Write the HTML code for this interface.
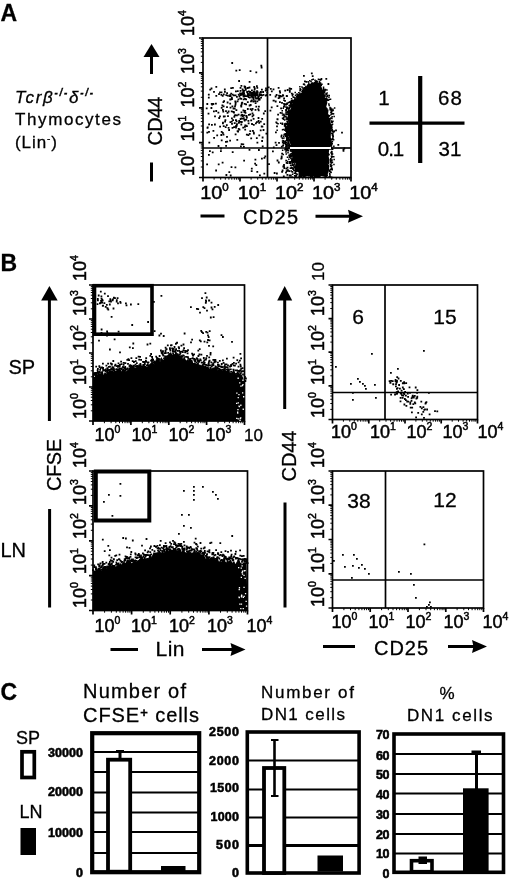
<!DOCTYPE html>
<html lang="en"><head><meta charset="utf-8"><title>Figure</title>
<style>html,body{margin:0;padding:0;background:#fff}svg{display:block}</style></head>
<body>
<svg width="520" height="881" viewBox="0 0 520 881" font-family='"Liberation Sans", Arial, Helvetica, sans-serif' fill="#000">
<style>text{stroke:#000;stroke-width:.3px}text.t{stroke-width:.5px}</style>
<defs><filter id="soft" x="0" y="0" width="520" height="881" filterUnits="userSpaceOnUse"><feGaussianBlur stdDeviation="0.38"/></filter></defs>
<rect width="520" height="881" fill="#fff"/>
<g filter="url(#soft)">
<text x="0.5" y="20.5" font-size="23" font-weight="bold">A</text>
<text x="15" y="102.5" font-size="17" font-style="italic" textLength="78" lengthAdjust="spacing">Tcrβ<tspan dy="-7" font-size="10" font-weight="bold">-/-</tspan><tspan dy="7">δ</tspan><tspan dy="-7" font-size="10" font-weight="bold">-/-</tspan></text>
<text x="15" y="125" font-size="17" textLength="106" lengthAdjust="spacing">Thymocytes</text>
<text x="15" y="147.5" font-size="17" textLength="42" lengthAdjust="spacing">(Lin<tspan dy="-6" font-size="10">-</tspan><tspan dy="6">)</tspan></text>
<line x1="151.5" y1="74" x2="151.5" y2="55" stroke="#000" stroke-width="3"/>
<polygon points="151.5,44 143.5,57 159.5,57" fill="#000"/>
<text x="161.5" y="145.5" font-size="20" textLength="49" lengthAdjust="spacing" transform="rotate(-90 161.5 145.5)">CD44</text>
<line x1="151.5" y1="162.5" x2="151.5" y2="181.5" stroke="#000" stroke-width="3"/>
<rect x="203" y="38" width="148" height="139.5" fill="none" stroke="#000" stroke-width="1.7"/>
<line x1="267.5" y1="38" x2="267.5" y2="177.5" stroke="#000" stroke-width="1.7"/>
<path d="M214.1 177.5v2.2M203 167.0h-2.2M220.7 177.5v2.2M203 160.9h-2.2M225.3 177.5v2.2M203 156.5h-2.2M228.9 177.5v2.2M203 153.1h-2.2M231.8 177.5v2.2M203 150.4h-2.2M234.3 177.5v2.2M203 148.0h-2.2M236.4 177.5v2.2M203 146.0h-2.2M238.3 177.5v2.2M203 144.2h-2.2M251.1 177.5v2.2M203 132.1h-2.2M257.7 177.5v2.2M203 126.0h-2.2M262.3 177.5v2.2M203 121.6h-2.2M265.9 177.5v2.2M203 118.2h-2.2M268.8 177.5v2.2M203 115.5h-2.2M271.3 177.5v2.2M203 113.2h-2.2M273.4 177.5v2.2M203 111.1h-2.2M275.3 177.5v2.2M203 109.3h-2.2M288.1 177.5v2.2M203 97.3h-2.2M294.7 177.5v2.2M203 91.1h-2.2M299.3 177.5v2.2M203 86.8h-2.2M302.9 177.5v2.2M203 83.4h-2.2M305.8 177.5v2.2M203 80.6h-2.2M308.3 177.5v2.2M203 78.3h-2.2M310.4 177.5v2.2M203 76.3h-2.2M312.3 177.5v2.2M203 74.5h-2.2M325.1 177.5v2.2M203 62.4h-2.2M331.7 177.5v2.2M203 56.2h-2.2M336.3 177.5v2.2M203 51.9h-2.2M339.9 177.5v2.2M203 48.5h-2.2M342.8 177.5v2.2M203 45.7h-2.2M345.3 177.5v2.2M203 43.4h-2.2M347.4 177.5v2.2M203 41.4h-2.2M349.3 177.5v2.2M203 39.6h-2.2" stroke="#000" stroke-width="1" fill="none"/>
<path d="M203.0 177.5v4M203 177.5h-4M240.0 177.5v4M203 142.6h-4M277.0 177.5v4M203 107.8h-4M314.0 177.5v4M203 72.9h-4M351.0 177.5v4M203 38.0h-4" stroke="#000" stroke-width="1.7" fill="none"/>
<text x="193.5" y="176" font-size="18" transform="rotate(-90 193.5 176)" class="t">10<tspan dy="-7.6" font-size="10.5">0</tspan></text>
<text x="193.5" y="141.5" font-size="18" transform="rotate(-90 193.5 141.5)" class="t">10<tspan dy="-7.6" font-size="10.5">1</tspan></text>
<text x="193.5" y="107.5" font-size="18" transform="rotate(-90 193.5 107.5)" class="t">10<tspan dy="-7.6" font-size="10.5">2</tspan></text>
<text x="193.5" y="74" font-size="18" transform="rotate(-90 193.5 74)" class="t">10<tspan dy="-7.6" font-size="10.5">3</tspan></text>
<text x="193.5" y="36" font-size="18" transform="rotate(-90 193.5 36)" class="t">10<tspan dy="-7.6" font-size="10.5">4</tspan></text>
<text x="200.3" y="199" font-size="18" textLength="28.5" lengthAdjust="spacingAndGlyphs" class="t">10<tspan dy="-7.6" font-size="10.5">0</tspan></text>
<text x="237.8" y="199" font-size="18" textLength="28.5" lengthAdjust="spacingAndGlyphs" class="t">10<tspan dy="-7.6" font-size="10.5">1</tspan></text>
<text x="275" y="199" font-size="18" textLength="28.5" lengthAdjust="spacingAndGlyphs" class="t">10<tspan dy="-7.6" font-size="10.5">2</tspan></text>
<text x="312" y="199" font-size="18" textLength="28.5" lengthAdjust="spacingAndGlyphs" class="t">10<tspan dy="-7.6" font-size="10.5">3</tspan></text>
<text x="349.3" y="199" font-size="18" textLength="28.5" lengthAdjust="spacingAndGlyphs" class="t">10<tspan dy="-7.6" font-size="10.5">4</tspan></text>
<path d="M232.2 119.2h1.8v1.8h-1.8zM232.6 107.6h1.8v1.8h-1.8zM222.0 109.0h1.8v1.8h-1.8zM252.7 117.9h1.8v1.8h-1.8zM251.6 115.5h1.8v1.8h-1.8zM241.9 114.6h1.8v1.8h-1.8zM211.0 124.0h1.8v1.8h-1.8zM243.6 119.0h1.8v1.8h-1.8zM210.6 87.6h1.8v1.8h-1.8zM222.7 105.4h1.8v1.8h-1.8zM240.6 111.4h1.8v1.8h-1.8zM243.8 103.0h1.8v1.8h-1.8zM240.6 117.5h1.8v1.8h-1.8zM226.1 136.0h1.8v1.8h-1.8zM244.3 128.8h1.8v1.8h-1.8zM226.7 101.6h1.8v1.8h-1.8zM230.8 110.5h1.8v1.8h-1.8zM245.5 115.5h1.8v1.8h-1.8zM229.3 98.6h1.8v1.8h-1.8zM228.2 129.1h1.8v1.8h-1.8zM223.9 115.4h1.8v1.8h-1.8zM242.4 91.1h1.8v1.8h-1.8zM236.7 130.3h1.8v1.8h-1.8zM205.8 107.5h1.8v1.8h-1.8zM234.4 100.6h1.8v1.8h-1.8zM243.5 111.1h1.8v1.8h-1.8zM214.0 123.6h1.8v1.8h-1.8zM246.0 125.2h1.8v1.8h-1.8zM257.6 117.1h1.8v1.8h-1.8zM237.8 93.8h1.8v1.8h-1.8zM245.2 103.4h1.8v1.8h-1.8zM229.2 94.3h1.8v1.8h-1.8zM221.5 104.6h1.8v1.8h-1.8zM214.1 115.4h1.8v1.8h-1.8zM257.7 120.1h1.8v1.8h-1.8zM241.4 101.7h1.8v1.8h-1.8zM219.2 125.7h1.8v1.8h-1.8zM252.5 114.2h1.8v1.8h-1.8zM239.7 118.1h1.8v1.8h-1.8zM259.9 120.7h1.8v1.8h-1.8zM243.8 119.7h1.8v1.8h-1.8zM212.5 129.9h1.8v1.8h-1.8zM250.3 119.4h1.8v1.8h-1.8zM206.4 103.1h1.8v1.8h-1.8zM248.6 86.6h1.8v1.8h-1.8zM233.2 126.3h1.8v1.8h-1.8zM216.3 134.5h1.8v1.8h-1.8zM244.3 109.9h1.8v1.8h-1.8zM240.9 121.1h1.8v1.8h-1.8zM237.8 128.0h1.8v1.8h-1.8zM226.1 106.2h1.8v1.8h-1.8zM251.6 112.4h1.8v1.8h-1.8zM222.8 125.3h1.8v1.8h-1.8zM258.0 105.8h1.8v1.8h-1.8zM215.3 110.1h1.8v1.8h-1.8zM233.8 107.8h1.8v1.8h-1.8zM257.1 97.6h1.8v1.8h-1.8zM254.9 94.2h1.8v1.8h-1.8zM224.2 120.8h1.8v1.8h-1.8zM252.9 124.0h1.8v1.8h-1.8zM241.2 114.0h1.8v1.8h-1.8zM238.3 120.1h1.8v1.8h-1.8zM233.4 115.9h1.8v1.8h-1.8zM244.6 112.0h1.8v1.8h-1.8zM247.5 119.9h1.8v1.8h-1.8zM229.6 106.8h1.8v1.8h-1.8zM235.8 124.9h1.8v1.8h-1.8zM231.0 117.4h1.8v1.8h-1.8zM219.1 115.4h1.8v1.8h-1.8zM242.0 115.3h1.8v1.8h-1.8zM229.5 121.2h1.8v1.8h-1.8zM240.2 104.7h1.8v1.8h-1.8zM227.7 110.6h1.8v1.8h-1.8zM232.6 111.1h1.8v1.8h-1.8zM251.1 95.6h1.8v1.8h-1.8zM235.0 125.3h1.8v1.8h-1.8zM248.8 132.9h1.8v1.8h-1.8zM210.5 107.1h1.8v1.8h-1.8zM230.9 120.7h1.8v1.8h-1.8zM252.3 91.7h1.8v1.8h-1.8zM246.2 91.1h1.8v1.8h-1.8zM238.6 128.7h1.8v1.8h-1.8zM233.8 114.7h1.8v1.8h-1.8zM248.0 114.0h1.8v1.8h-1.8zM234.7 133.5h1.8v1.8h-1.8zM251.7 107.9h1.8v1.8h-1.8zM249.7 108.3h1.8v1.8h-1.8zM238.0 121.9h1.8v1.8h-1.8zM239.3 120.9h1.8v1.8h-1.8zM213.1 90.9h1.8v1.8h-1.8zM245.2 98.5h1.8v1.8h-1.8zM220.6 91.4h1.8v1.8h-1.8zM255.0 122.5h1.8v1.8h-1.8zM258.1 98.9h1.8v1.8h-1.8zM236.0 96.0h1.8v1.8h-1.8zM247.5 134.3h1.8v1.8h-1.8zM222.6 133.8h1.8v1.8h-1.8zM250.8 109.5h1.8v1.8h-1.8zM206.4 131.7h1.8v1.8h-1.8zM234.6 103.6h1.8v1.8h-1.8zM242.0 117.7h1.8v1.8h-1.8zM258.5 97.7h1.8v1.8h-1.8zM253.0 132.8h1.8v1.8h-1.8zM257.8 109.5h1.8v1.8h-1.8zM224.8 126.3h1.8v1.8h-1.8zM237.7 113.7h1.8v1.8h-1.8zM257.4 108.3h1.8v1.8h-1.8zM208.2 123.5h1.8v1.8h-1.8zM240.8 103.4h1.8v1.8h-1.8zM235.9 123.7h1.8v1.8h-1.8zM237.2 130.6h1.8v1.8h-1.8zM235.1 126.6h1.8v1.8h-1.8zM258.4 134.5h1.8v1.8h-1.8zM225.9 124.3h1.8v1.8h-1.8zM207.9 96.8h1.8v1.8h-1.8zM206.6 127.0h1.8v1.8h-1.8zM217.5 111.8h1.8v1.8h-1.8zM233.1 111.6h1.8v1.8h-1.8zM227.1 115.3h1.8v1.8h-1.8zM262.9 112.6h1.8v1.8h-1.8zM244.0 126.0h1.8v1.8h-1.8zM233.0 94.4h1.8v1.8h-1.8zM227.7 127.0h1.8v1.8h-1.8zM211.3 103.6h1.8v1.8h-1.8zM251.1 123.1h1.8v1.8h-1.8zM236.1 123.3h1.8v1.8h-1.8zM238.5 95.5h1.8v1.8h-1.8zM212.5 103.1h1.8v1.8h-1.8zM249.8 104.1h1.8v1.8h-1.8zM222.5 101.2h1.8v1.8h-1.8zM213.0 110.4h1.8v1.8h-1.8zM218.3 117.1h1.8v1.8h-1.8zM246.9 108.1h1.8v1.8h-1.8zM240.4 105.6h1.8v1.8h-1.8zM247.7 122.5h1.8v1.8h-1.8zM246.0 116.6h1.8v1.8h-1.8zM256.0 121.2h1.8v1.8h-1.8zM249.4 130.3h1.8v1.8h-1.8zM231.5 105.4h1.8v1.8h-1.8zM265.1 87.4h1.8v1.8h-1.8zM243.0 145.9h1.8v1.8h-1.8zM222.1 121.7h1.8v1.8h-1.8zM264.3 110.3h1.8v1.8h-1.8zM244.4 124.6h1.8v1.8h-1.8zM222.4 110.8h1.8v1.8h-1.8zM240.4 123.6h1.8v1.8h-1.8zM235.5 109.3h1.8v1.8h-1.8zM220.8 107.0h1.8v1.8h-1.8zM249.4 113.4h1.8v1.8h-1.8zM223.2 100.2h1.8v1.8h-1.8zM245.3 118.7h1.8v1.8h-1.8zM261.3 118.0h1.8v1.8h-1.8zM235.0 119.3h1.8v1.8h-1.8zM206.8 126.5h1.8v1.8h-1.8zM240.9 102.2h1.8v1.8h-1.8zM255.9 137.3h1.8v1.8h-1.8zM215.0 102.7h1.8v1.8h-1.8zM240.4 114.6h1.8v1.8h-1.8zM230.0 98.4h1.8v1.8h-1.8zM218.1 93.2h1.8v1.8h-1.8zM261.5 125.8h1.8v1.8h-1.8zM263.3 123.3h1.8v1.8h-1.8zM222.9 115.6h1.8v1.8h-1.8zM235.1 119.3h1.8v1.8h-1.8zM225.1 110.3h1.8v1.8h-1.8zM242.9 117.3h1.8v1.8h-1.8zM245.6 114.9h1.8v1.8h-1.8zM231.1 123.0h1.8v1.8h-1.8zM236.7 100.4h1.8v1.8h-1.8zM226.6 112.0h1.8v1.8h-1.8zM234.4 114.2h1.8v1.8h-1.8zM236.0 114.5h1.8v1.8h-1.8zM234.0 94.4h1.8v1.8h-1.8zM242.3 126.8h1.8v1.8h-1.8zM242.5 109.4h1.8v1.8h-1.8zM242.7 98.5h1.8v1.8h-1.8zM207.6 112.8h1.8v1.8h-1.8zM222.0 122.4h1.8v1.8h-1.8zM220.4 134.1h1.8v1.8h-1.8zM230.3 92.8h1.8v1.8h-1.8zM224.5 119.3h1.8v1.8h-1.8zM243.5 114.5h1.8v1.8h-1.8zM258.3 121.9h1.8v1.8h-1.8zM235.7 120.4h1.8v1.8h-1.8zM260.8 125.6h1.8v1.8h-1.8zM251.4 96.8h1.8v1.8h-1.8zM233.8 122.2h1.8v1.8h-1.8zM231.6 127.0h1.8v1.8h-1.8zM244.9 124.7h1.8v1.8h-1.8zM254.6 109.0h1.8v1.8h-1.8zM237.5 98.4h1.8v1.8h-1.8zM262.6 94.0h1.8v1.8h-1.8zM221.8 94.9h1.8v1.8h-1.8zM250.8 99.6h1.8v1.8h-1.8zM258.9 94.1h1.8v1.8h-1.8zM260.2 96.7h1.8v1.8h-1.8zM247.9 94.3h1.8v1.8h-1.8zM239.4 97.4h1.8v1.8h-1.8zM224.0 90.9h1.8v1.8h-1.8zM244.1 86.7h1.8v1.8h-1.8zM231.0 96.8h1.8v1.8h-1.8zM254.8 93.7h1.8v1.8h-1.8zM239.6 86.9h1.8v1.8h-1.8zM278.7 96.6h1.8v1.8h-1.8zM264.8 89.6h1.8v1.8h-1.8zM240.5 84.9h1.8v1.8h-1.8zM258.8 98.7h1.8v1.8h-1.8zM207.9 93.7h1.8v1.8h-1.8zM256.0 85.2h1.8v1.8h-1.8zM209.3 88.7h1.8v1.8h-1.8zM232.0 87.0h1.8v1.8h-1.8zM244.6 95.2h1.8v1.8h-1.8zM256.0 97.5h1.8v1.8h-1.8zM272.6 99.8h1.8v1.8h-1.8zM219.1 91.5h1.8v1.8h-1.8zM223.9 88.6h1.8v1.8h-1.8zM242.5 94.0h1.8v1.8h-1.8zM253.3 86.1h1.8v1.8h-1.8zM220.5 93.9h1.8v1.8h-1.8zM240.2 92.4h1.8v1.8h-1.8zM242.8 90.2h1.8v1.8h-1.8zM257.3 95.8h1.8v1.8h-1.8zM242.3 90.6h1.8v1.8h-1.8zM225.4 94.2h1.8v1.8h-1.8zM215.4 95.0h1.8v1.8h-1.8zM246.8 87.1h1.8v1.8h-1.8zM239.2 92.4h1.8v1.8h-1.8zM252.7 97.1h1.8v1.8h-1.8zM243.3 89.7h1.8v1.8h-1.8zM241.3 93.7h1.8v1.8h-1.8zM258.0 95.5h1.8v1.8h-1.8zM230.3 87.2h1.8v1.8h-1.8zM236.9 90.3h1.8v1.8h-1.8zM222.9 93.4h1.8v1.8h-1.8zM234.7 94.5h1.8v1.8h-1.8zM253.9 91.9h1.8v1.8h-1.8zM264.9 94.6h1.8v1.8h-1.8zM229.7 95.2h1.8v1.8h-1.8zM255.4 105.7h1.8v1.8h-1.8zM250.1 100.4h1.8v1.8h-1.8zM258.6 98.7h1.8v1.8h-1.8zM253.7 93.2h1.8v1.8h-1.8zM253.7 88.6h1.8v1.8h-1.8zM266.4 88.9h1.8v1.8h-1.8zM248.7 104.6h1.8v1.8h-1.8zM239.8 94.1h1.8v1.8h-1.8zM266.1 94.1h1.8v1.8h-1.8zM228.7 95.3h1.8v1.8h-1.8zM255.1 97.6h1.8v1.8h-1.8zM229.3 102.8h1.8v1.8h-1.8zM275.7 94.1h1.8v1.8h-1.8zM249.1 91.9h1.8v1.8h-1.8zM270.9 90.5h1.8v1.8h-1.8zM256.8 91.6h1.8v1.8h-1.8zM230.8 97.6h1.8v1.8h-1.8zM269.3 93.9h1.8v1.8h-1.8zM231.1 98.1h1.8v1.8h-1.8zM243.1 95.6h1.8v1.8h-1.8zM272.9 99.7h1.8v1.8h-1.8zM234.1 105.4h1.8v1.8h-1.8zM244.1 97.9h1.8v1.8h-1.8zM231.7 93.8h1.8v1.8h-1.8zM210.8 102.9h1.8v1.8h-1.8zM269.9 87.9h1.8v1.8h-1.8zM215.4 85.9h1.8v1.8h-1.8zM266.3 91.7h1.8v1.8h-1.8zM242.8 92.4h1.8v1.8h-1.8zM241.7 88.6h1.8v1.8h-1.8zM244.5 86.8h1.8v1.8h-1.8zM242.6 95.5h1.8v1.8h-1.8zM252.9 92.8h1.8v1.8h-1.8zM226.8 94.8h1.8v1.8h-1.8zM234.8 101.8h1.8v1.8h-1.8zM258.6 93.4h1.8v1.8h-1.8zM235.0 90.5h1.8v1.8h-1.8zM226.2 92.2h1.8v1.8h-1.8zM252.8 94.8h1.8v1.8h-1.8zM254.4 100.3h1.8v1.8h-1.8zM246.8 93.0h1.8v1.8h-1.8zM267.8 86.5h1.8v1.8h-1.8zM247.9 93.6h1.8v1.8h-1.8zM251.9 94.4h1.8v1.8h-1.8zM249.6 94.3h1.8v1.8h-1.8zM251.3 95.7h1.8v1.8h-1.8zM239.6 89.9h1.8v1.8h-1.8zM251.0 89.4h1.8v1.8h-1.8zM244.7 95.2h1.8v1.8h-1.8zM247.1 95.2h1.8v1.8h-1.8zM255.5 94.1h1.8v1.8h-1.8zM254.0 92.6h1.8v1.8h-1.8zM242.5 92.9h1.8v1.8h-1.8zM253.7 91.1h1.8v1.8h-1.8zM250.4 95.6h1.8v1.8h-1.8zM245.7 95.2h1.8v1.8h-1.8zM262.2 91.1h1.8v1.8h-1.8zM251.9 92.5h1.8v1.8h-1.8zM260.2 94.1h1.8v1.8h-1.8zM256.4 90.6h1.8v1.8h-1.8zM250.9 93.0h1.8v1.8h-1.8zM240.3 98.0h1.8v1.8h-1.8zM256.4 86.9h1.8v1.8h-1.8zM255.5 92.5h1.8v1.8h-1.8zM253.7 94.3h1.8v1.8h-1.8zM242.0 92.3h1.8v1.8h-1.8zM260.0 91.0h1.8v1.8h-1.8zM244.9 88.2h1.8v1.8h-1.8zM243.7 94.2h1.8v1.8h-1.8zM261.2 94.5h1.8v1.8h-1.8zM252.5 100.8h1.8v1.8h-1.8zM247.9 90.6h1.8v1.8h-1.8zM254.2 94.9h1.8v1.8h-1.8zM244.9 88.9h1.8v1.8h-1.8zM252.7 93.9h1.8v1.8h-1.8zM243.2 92.3h1.8v1.8h-1.8zM247.7 94.6h1.8v1.8h-1.8zM250.3 92.7h1.8v1.8h-1.8zM248.9 96.7h1.8v1.8h-1.8zM259.3 91.7h1.8v1.8h-1.8zM256.1 90.3h1.8v1.8h-1.8zM251.4 95.6h1.8v1.8h-1.8zM260.1 91.7h1.8v1.8h-1.8zM250.6 93.7h1.8v1.8h-1.8zM242.0 93.1h1.8v1.8h-1.8zM246.9 94.3h1.8v1.8h-1.8zM244.2 86.1h1.8v1.8h-1.8zM251.2 93.9h1.8v1.8h-1.8zM247.7 96.1h1.8v1.8h-1.8zM249.4 90.9h1.8v1.8h-1.8zM253.9 87.5h1.8v1.8h-1.8zM246.9 92.9h1.8v1.8h-1.8zM256.1 92.4h1.8v1.8h-1.8zM252.9 90.7h1.8v1.8h-1.8zM252.8 98.8h1.8v1.8h-1.8zM246.9 101.3h1.8v1.8h-1.8zM247.1 93.1h1.8v1.8h-1.8zM252.0 96.6h1.8v1.8h-1.8zM243.6 85.6h1.8v1.8h-1.8zM254.6 95.8h1.8v1.8h-1.8zM254.7 102.2h1.8v1.8h-1.8zM252.2 93.9h1.8v1.8h-1.8zM256.6 94.3h1.8v1.8h-1.8zM261.0 88.7h1.8v1.8h-1.8zM248.7 80.9h1.8v1.8h-1.8zM255.9 91.7h1.8v1.8h-1.8zM256.5 100.5h1.8v1.8h-1.8zM251.0 92.1h1.8v1.8h-1.8zM249.6 70.3h1.8v1.8h-1.8zM238.8 69.3h1.8v1.8h-1.8zM231.3 62.1h1.8v1.8h-1.8zM235.4 69.7h1.8v1.8h-1.8zM260.4 64.7h1.8v1.8h-1.8zM260.7 66.6h1.8v1.8h-1.8zM238.2 80.1h1.8v1.8h-1.8zM255.4 71.5h1.8v1.8h-1.8zM209.0 150.3h1.8v1.8h-1.8zM228.4 171.2h1.8v1.8h-1.8zM217.6 145.1h1.8v1.8h-1.8zM259.8 129.4h1.8v1.8h-1.8zM230.6 166.2h1.8v1.8h-1.8zM252.0 129.9h1.8v1.8h-1.8zM208.1 130.9h1.8v1.8h-1.8zM261.2 140.1h1.8v1.8h-1.8zM250.8 170.2h1.8v1.8h-1.8zM226.3 140.8h1.8v1.8h-1.8zM263.5 157.0h1.8v1.8h-1.8zM221.7 161.7h1.8v1.8h-1.8zM225.0 141.0h1.8v1.8h-1.8zM206.2 163.5h1.8v1.8h-1.8zM261.0 157.8h1.8v1.8h-1.8zM262.6 129.1h1.8v1.8h-1.8zM220.0 150.3h1.8v1.8h-1.8zM263.4 172.8h1.8v1.8h-1.8zM229.2 139.8h1.8v1.8h-1.8zM231.8 151.2h1.8v1.8h-1.8zM261.7 136.6h1.8v1.8h-1.8zM254.2 162.7h1.8v1.8h-1.8zM255.4 164.3h1.8v1.8h-1.8zM242.4 143.4h1.8v1.8h-1.8zM225.2 145.0h1.8v1.8h-1.8zM252.9 131.7h1.8v1.8h-1.8zM217.8 163.4h1.8v1.8h-1.8zM220.8 131.0h1.8v1.8h-1.8zM208.0 154.0h1.8v1.8h-1.8zM225.5 174.1h1.8v1.8h-1.8zM259.0 174.4h1.8v1.8h-1.8zM221.9 132.0h1.8v1.8h-1.8zM211.8 151.4h1.8v1.8h-1.8zM248.6 149.0h1.8v1.8h-1.8zM220.1 147.6h1.8v1.8h-1.8zM243.2 159.7h1.8v1.8h-1.8zM250.9 167.8h1.8v1.8h-1.8zM245.9 133.7h1.8v1.8h-1.8zM256.5 141.8h1.8v1.8h-1.8zM240.0 145.5h1.8v1.8h-1.8zM250.3 137.4h1.8v1.8h-1.8zM220.8 139.5h1.8v1.8h-1.8zM215.2 169.6h1.8v1.8h-1.8zM240.7 143.3h1.8v1.8h-1.8zM229.8 174.6h1.8v1.8h-1.8zM236.4 138.9h1.8v1.8h-1.8zM254.5 158.7h1.8v1.8h-1.8zM265.5 132.8h1.8v1.8h-1.8zM234.5 166.5h1.8v1.8h-1.8zM256.4 171.0h1.8v1.8h-1.8zM208.4 141.8h1.8v1.8h-1.8zM213.2 136.9h1.8v1.8h-1.8zM264.4 155.4h1.8v1.8h-1.8zM261.8 145.5h1.8v1.8h-1.8zM258.0 149.1h1.8v1.8h-1.8zM290.9 92.8h1.8v1.8h-1.8zM274.7 141.8h1.8v1.8h-1.8zM290.1 104.4h1.8v1.8h-1.8zM282.6 139.9h1.8v1.8h-1.8zM288.1 115.5h1.8v1.8h-1.8zM286.5 102.7h1.8v1.8h-1.8zM289.4 135.3h1.8v1.8h-1.8zM285.8 95.1h1.8v1.8h-1.8zM282.0 94.2h1.8v1.8h-1.8zM284.3 148.6h1.8v1.8h-1.8zM285.1 171.8h1.8v1.8h-1.8zM287.6 137.0h1.8v1.8h-1.8zM285.5 149.8h1.8v1.8h-1.8zM283.9 103.7h1.8v1.8h-1.8zM291.1 167.1h1.8v1.8h-1.8zM285.3 159.8h1.8v1.8h-1.8zM274.8 100.6h1.8v1.8h-1.8zM280.5 135.6h1.8v1.8h-1.8zM278.1 142.0h1.8v1.8h-1.8zM275.0 131.4h1.8v1.8h-1.8zM287.0 169.3h1.8v1.8h-1.8zM285.5 130.1h1.8v1.8h-1.8zM283.2 97.4h1.8v1.8h-1.8zM288.7 110.8h1.8v1.8h-1.8zM291.6 125.7h1.8v1.8h-1.8zM289.3 106.0h1.8v1.8h-1.8zM286.7 162.2h1.8v1.8h-1.8zM289.0 122.0h1.8v1.8h-1.8zM286.4 120.5h1.8v1.8h-1.8zM286.6 166.8h1.8v1.8h-1.8zM286.7 136.6h1.8v1.8h-1.8zM291.9 93.5h1.8v1.8h-1.8zM289.2 135.5h1.8v1.8h-1.8zM286.0 138.4h1.8v1.8h-1.8zM285.9 145.3h1.8v1.8h-1.8zM281.9 141.7h1.8v1.8h-1.8zM288.5 107.2h1.8v1.8h-1.8zM290.5 102.2h1.8v1.8h-1.8zM274.7 95.6h1.8v1.8h-1.8zM284.7 125.8h1.8v1.8h-1.8zM284.3 89.7h1.8v1.8h-1.8zM289.3 156.0h1.8v1.8h-1.8zM288.9 90.9h1.8v1.8h-1.8zM282.3 94.7h1.8v1.8h-1.8zM291.8 149.8h1.8v1.8h-1.8zM289.9 174.4h1.8v1.8h-1.8zM273.7 172.1h1.8v1.8h-1.8zM286.8 169.8h1.8v1.8h-1.8zM289.0 117.6h1.8v1.8h-1.8zM291.8 103.6h1.8v1.8h-1.8zM286.1 95.2h1.8v1.8h-1.8zM269.5 109.7h1.8v1.8h-1.8zM291.7 114.7h1.8v1.8h-1.8zM285.8 170.3h1.8v1.8h-1.8zM290.5 166.6h1.8v1.8h-1.8zM283.4 133.8h1.8v1.8h-1.8zM276.7 118.4h1.8v1.8h-1.8zM283.1 165.4h1.8v1.8h-1.8zM282.9 175.4h1.8v1.8h-1.8zM285.1 109.8h1.8v1.8h-1.8zM284.7 123.0h1.8v1.8h-1.8zM281.1 101.9h1.8v1.8h-1.8zM278.9 90.3h1.8v1.8h-1.8zM288.8 174.6h1.8v1.8h-1.8zM285.1 145.7h1.8v1.8h-1.8zM291.8 99.4h1.8v1.8h-1.8zM291.4 124.9h1.8v1.8h-1.8zM270.8 106.5h1.8v1.8h-1.8zM290.3 88.0h1.8v1.8h-1.8zM282.6 118.1h1.8v1.8h-1.8zM291.8 138.5h1.8v1.8h-1.8zM286.3 128.7h1.8v1.8h-1.8zM288.4 170.3h1.8v1.8h-1.8zM291.8 143.4h1.8v1.8h-1.8zM286.3 136.1h1.8v1.8h-1.8zM285.6 144.0h1.8v1.8h-1.8zM287.5 117.5h1.8v1.8h-1.8zM285.4 132.9h1.8v1.8h-1.8zM283.4 167.3h1.8v1.8h-1.8zM280.2 107.4h1.8v1.8h-1.8zM288.6 156.1h1.8v1.8h-1.8zM279.4 95.1h1.8v1.8h-1.8zM291.0 140.7h1.8v1.8h-1.8zM277.7 97.2h1.8v1.8h-1.8zM291.4 113.0h1.8v1.8h-1.8zM272.0 150.4h1.8v1.8h-1.8zM285.7 162.0h1.8v1.8h-1.8zM291.7 126.7h1.8v1.8h-1.8zM280.8 95.5h1.8v1.8h-1.8zM291.7 153.5h1.8v1.8h-1.8zM289.2 162.1h1.8v1.8h-1.8zM290.1 125.2h1.8v1.8h-1.8zM284.4 133.1h1.8v1.8h-1.8zM290.6 99.9h1.8v1.8h-1.8zM277.7 87.0h1.8v1.8h-1.8zM291.5 171.0h1.8v1.8h-1.8zM284.7 115.4h1.8v1.8h-1.8zM285.5 167.7h1.8v1.8h-1.8zM285.9 148.4h1.8v1.8h-1.8zM277.9 161.6h1.8v1.8h-1.8zM268.1 163.2h1.8v1.8h-1.8zM277.2 113.7h1.8v1.8h-1.8zM285.8 142.0h1.8v1.8h-1.8zM272.6 88.4h1.8v1.8h-1.8zM281.7 169.6h1.8v1.8h-1.8zM288.9 89.7h1.8v1.8h-1.8zM287.4 143.0h1.8v1.8h-1.8zM286.7 139.1h1.8v1.8h-1.8zM276.6 159.6h1.8v1.8h-1.8zM283.1 164.1h1.8v1.8h-1.8zM272.9 146.4h1.8v1.8h-1.8zM286.7 89.1h1.8v1.8h-1.8zM287.8 138.0h1.8v1.8h-1.8zM279.6 111.9h1.8v1.8h-1.8zM278.1 94.8h1.8v1.8h-1.8zM291.7 124.1h1.8v1.8h-1.8zM285.2 109.1h1.8v1.8h-1.8zM288.8 114.9h1.8v1.8h-1.8zM276.5 118.2h1.8v1.8h-1.8zM283.7 123.2h1.8v1.8h-1.8zM280.8 155.6h1.8v1.8h-1.8zM283.1 105.5h1.8v1.8h-1.8zM279.2 91.8h1.8v1.8h-1.8zM289.4 104.2h1.8v1.8h-1.8zM286.5 174.0h1.8v1.8h-1.8zM280.4 157.7h1.8v1.8h-1.8zM291.7 130.5h1.8v1.8h-1.8zM281.2 170.9h1.8v1.8h-1.8zM276.5 105.3h1.8v1.8h-1.8zM288.3 143.3h1.8v1.8h-1.8zM280.8 156.9h1.8v1.8h-1.8zM286.3 118.0h1.8v1.8h-1.8zM275.4 121.5h1.8v1.8h-1.8zM288.7 87.6h1.8v1.8h-1.8zM289.3 109.7h1.8v1.8h-1.8zM282.4 165.6h1.8v1.8h-1.8zM285.1 127.5h1.8v1.8h-1.8zM275.6 144.2h1.8v1.8h-1.8zM288.7 115.4h1.8v1.8h-1.8zM281.2 152.8h1.8v1.8h-1.8zM276.1 125.5h1.8v1.8h-1.8zM290.1 127.6h1.8v1.8h-1.8zM279.0 101.2h1.8v1.8h-1.8zM289.0 161.9h1.8v1.8h-1.8zM284.1 100.0h1.8v1.8h-1.8zM291.9 100.5h1.8v1.8h-1.8zM283.1 103.0h1.8v1.8h-1.8zM276.0 172.6h1.8v1.8h-1.8zM289.5 120.6h1.8v1.8h-1.8zM327.5 83.1h1.8v1.8h-1.8zM320.5 78.1h1.8v1.8h-1.8zM305.5 80.9h1.8v1.8h-1.8zM303.0 74.9h1.8v1.8h-1.8zM310.9 72.5h1.8v1.8h-1.8zM311.2 83.1h1.8v1.8h-1.8zM319.4 79.0h1.8v1.8h-1.8zM317.7 78.5h1.8v1.8h-1.8zM304.0 80.5h1.8v1.8h-1.8zM311.3 82.4h1.8v1.8h-1.8zM325.4 78.0h1.8v1.8h-1.8zM316.1 82.5h1.8v1.8h-1.8zM311.8 75.2h1.8v1.8h-1.8zM320.2 84.3h1.8v1.8h-1.8zM342.5 149.0h1.8v1.8h-1.8zM343.4 147.6h1.8v1.8h-1.8zM341.1 131.8h1.8v1.8h-1.8zM337.4 144.0h1.8v1.8h-1.8zM335.1 129.4h1.8v1.8h-1.8zM342.6 149.9h1.8v1.8h-1.8z" fill="#000"/>
<polygon points="316.4,80.1 313.6,82.4 311.4,82.6 310.4,83.8 308.2,85.9 307.6,84.2 306.0,86.7 304.0,87.7 304.1,89.6 302.6,89.2 301.0,91.8 301.9,92.4 298.3,94.6 297.5,94.1 295.5,97.1 296.5,97.9 294.3,98.9 292.4,101.5 292.1,102.0 293.0,104.2 291.2,104.1 290.8,105.2 291.1,107.5 290.9,108.9 289.1,110.4 289.0,111.8 287.4,115.1 288.1,115.2 287.7,117.4 287.6,119.3 287.9,119.8 288.3,122.8 285.1,124.2 287.3,125.5 284.4,127.1 286.4,126.1 284.8,130.8 287.3,130.2 285.9,131.5 286.7,135.2 287.5,134.9 289.6,138.4 287.6,140.3 289.4,141.4 289.9,143.3 290.7,144.6 289.1,145.6 290.6,147.3 290.6,149.2 291.2,148.7 290.4,149.8 291.5,151.1 291.6,152.9 292.0,155.5 292.3,158.2 290.9,159.6 292.6,160.2 293.7,162.5 293.2,162.6 295.6,162.9 295.0,166.1 293.5,167.5 296.1,170.0 295.4,171.5 296.6,171.7 298.5,172.0 298.5,175.7 297.9,178.2 299.5,176.9 301.6,177.9 302.1,176.8 304.3,177.2 307.2,176.3 308.7,176.7 309.2,176.3 310.8,178.5 312.8,177.9 313.3,176.4 314.7,177.3 317.3,177.9 317.0,177.7 321.2,177.1 320.1,176.4 321.5,176.0 325.9,177.3 326.6,177.9 328.1,175.6 327.7,173.9 328.6,172.1 329.2,169.1 329.1,168.2 329.4,165.4 327.5,163.5 329.4,164.7 329.0,161.2 329.5,160.9 329.0,157.7 328.6,156.7 329.0,155.3 330.4,155.4 328.8,152.7 329.2,149.8 332.0,149.7 332.7,147.8 329.9,146.1 331.8,146.4 333.1,143.4 331.4,140.7 332.2,139.6 330.7,137.4 330.3,138.1 330.8,137.5 330.8,135.7 331.0,131.5 332.9,130.7 333.1,129.0 330.6,129.3 332.5,128.0 332.3,124.0 331.7,124.4 330.9,123.6 330.0,122.2 331.3,117.5 328.8,118.0 331.1,114.7 329.0,115.1 328.1,113.8 328.6,109.6 327.8,109.6 327.6,108.2 326.2,107.0 326.7,104.9 327.5,102.5 326.6,102.1 328.3,100.5 326.9,97.3 324.7,98.0 326.1,96.0 324.2,93.8 325.7,93.1 323.8,89.7 322.6,89.9 321.8,87.6 321.4,86.9 321.1,83.6 317.4,82.2 318.0,81.8 318.4,81.2" fill="#000"/>
<path d="M319.8 82.2h1.5v1.5h-1.5zM280.9 134.6h1.5v1.5h-1.5zM330.9 162.3h1.5v1.5h-1.5zM281.3 112.3h1.5v1.5h-1.5zM331.8 132.8h1.5v1.5h-1.5zM290.5 170.2h1.5v1.5h-1.5zM332.0 138.1h1.5v1.5h-1.5zM328.1 103.2h1.5v1.5h-1.5zM286.7 156.4h1.5v1.5h-1.5zM288.3 154.4h1.5v1.5h-1.5zM332.5 135.4h1.5v1.5h-1.5zM283.8 125.2h1.5v1.5h-1.5zM293.8 96.7h1.5v1.5h-1.5zM283.1 113.9h1.5v1.5h-1.5zM286.7 117.8h1.5v1.5h-1.5zM296.1 176.7h1.5v1.5h-1.5zM322.5 88.5h1.5v1.5h-1.5zM285.8 137.1h1.5v1.5h-1.5zM276.4 129.4h1.5v1.5h-1.5zM291.9 163.7h1.5v1.5h-1.5zM286.6 134.2h1.5v1.5h-1.5zM330.1 171.7h1.5v1.5h-1.5zM329.6 159.1h1.5v1.5h-1.5zM294.2 97.9h1.5v1.5h-1.5zM301.2 86.3h1.5v1.5h-1.5zM331.8 123.4h1.5v1.5h-1.5zM292.5 168.1h1.5v1.5h-1.5zM324.0 89.9h1.5v1.5h-1.5zM286.2 103.5h1.5v1.5h-1.5zM282.5 144.3h1.5v1.5h-1.5zM276.3 122.4h1.5v1.5h-1.5zM291.2 100.0h1.5v1.5h-1.5zM285.6 103.3h1.5v1.5h-1.5zM288.9 160.9h1.5v1.5h-1.5zM333.0 155.9h1.5v1.5h-1.5zM302.8 83.5h1.5v1.5h-1.5zM330.8 152.7h1.5v1.5h-1.5zM332.2 136.6h1.5v1.5h-1.5zM305.1 88.4h1.5v1.5h-1.5zM284.7 125.7h1.5v1.5h-1.5zM292.5 101.6h1.5v1.5h-1.5zM289.8 149.0h1.5v1.5h-1.5zM318.8 81.6h1.5v1.5h-1.5zM333.2 163.8h1.5v1.5h-1.5zM294.5 91.8h1.5v1.5h-1.5zM331.7 161.4h1.5v1.5h-1.5zM285.1 122.8h1.5v1.5h-1.5zM284.8 140.2h1.5v1.5h-1.5zM292.5 99.9h1.5v1.5h-1.5zM326.4 92.3h1.5v1.5h-1.5zM289.8 104.4h1.5v1.5h-1.5zM291.0 161.1h1.5v1.5h-1.5zM294.8 94.6h1.5v1.5h-1.5zM326.2 89.3h1.5v1.5h-1.5zM320.0 83.6h1.5v1.5h-1.5zM284.5 125.3h1.5v1.5h-1.5zM284.7 103.5h1.5v1.5h-1.5zM331.7 176.8h1.5v1.5h-1.5zM305.2 87.7h1.5v1.5h-1.5zM289.7 149.9h1.5v1.5h-1.5zM295.6 174.9h1.5v1.5h-1.5zM298.0 91.9h1.5v1.5h-1.5zM291.6 160.4h1.5v1.5h-1.5zM292.0 168.3h1.5v1.5h-1.5zM284.8 134.6h1.5v1.5h-1.5zM284.7 148.5h1.5v1.5h-1.5zM305.1 85.8h1.5v1.5h-1.5zM288.4 105.1h1.5v1.5h-1.5zM331.7 138.6h1.5v1.5h-1.5zM290.8 98.0h1.5v1.5h-1.5zM290.4 150.5h1.5v1.5h-1.5zM291.4 158.3h1.5v1.5h-1.5zM329.7 161.3h1.5v1.5h-1.5zM295.4 168.1h1.5v1.5h-1.5zM291.7 164.3h1.5v1.5h-1.5zM281.8 114.3h1.5v1.5h-1.5zM283.6 114.7h1.5v1.5h-1.5zM286.8 122.1h1.5v1.5h-1.5zM324.4 90.0h1.5v1.5h-1.5zM332.4 109.8h1.5v1.5h-1.5zM333.4 115.8h1.5v1.5h-1.5zM293.7 172.5h1.5v1.5h-1.5zM286.1 128.8h1.5v1.5h-1.5zM296.4 173.8h1.5v1.5h-1.5zM296.6 96.1h1.5v1.5h-1.5zM307.4 81.0h1.5v1.5h-1.5zM285.1 147.2h1.5v1.5h-1.5zM286.9 135.1h1.5v1.5h-1.5zM286.1 147.6h1.5v1.5h-1.5zM308.1 82.5h1.5v1.5h-1.5zM286.3 126.9h1.5v1.5h-1.5zM285.5 118.2h1.5v1.5h-1.5zM332.2 136.6h1.5v1.5h-1.5zM287.3 151.9h1.5v1.5h-1.5zM331.0 159.8h1.5v1.5h-1.5zM291.0 161.1h1.5v1.5h-1.5zM330.4 117.2h1.5v1.5h-1.5zM289.5 101.8h1.5v1.5h-1.5zM331.7 121.1h1.5v1.5h-1.5zM333.4 158.7h1.5v1.5h-1.5zM303.3 83.3h1.5v1.5h-1.5zM290.0 102.7h1.5v1.5h-1.5zM287.2 140.6h1.5v1.5h-1.5zM286.8 120.9h1.5v1.5h-1.5zM309.0 80.1h1.5v1.5h-1.5zM329.0 170.8h1.5v1.5h-1.5zM330.0 158.1h1.5v1.5h-1.5zM288.0 141.5h1.5v1.5h-1.5zM281.7 145.2h1.5v1.5h-1.5zM286.1 139.5h1.5v1.5h-1.5zM284.1 129.5h1.5v1.5h-1.5zM329.3 108.2h1.5v1.5h-1.5zM299.3 89.9h1.5v1.5h-1.5zM290.1 104.6h1.5v1.5h-1.5zM285.7 130.8h1.5v1.5h-1.5zM288.7 107.1h1.5v1.5h-1.5zM286.5 106.5h1.5v1.5h-1.5zM291.0 161.1h1.5v1.5h-1.5zM331.7 134.4h1.5v1.5h-1.5zM281.5 123.6h1.5v1.5h-1.5zM287.1 138.7h1.5v1.5h-1.5zM291.1 99.9h1.5v1.5h-1.5zM284.3 115.9h1.5v1.5h-1.5zM293.8 163.3h1.5v1.5h-1.5zM285.0 133.1h1.5v1.5h-1.5zM333.9 107.3h1.5v1.5h-1.5zM296.4 93.7h1.5v1.5h-1.5zM307.5 84.1h1.5v1.5h-1.5zM331.4 121.5h1.5v1.5h-1.5zM328.9 173.0h1.5v1.5h-1.5zM296.3 93.3h1.5v1.5h-1.5zM332.9 139.0h1.5v1.5h-1.5zM292.4 159.3h1.5v1.5h-1.5zM285.5 153.2h1.5v1.5h-1.5zM330.7 155.7h1.5v1.5h-1.5zM293.3 164.2h1.5v1.5h-1.5zM282.5 153.8h1.5v1.5h-1.5zM287.2 134.6h1.5v1.5h-1.5zM331.2 155.6h1.5v1.5h-1.5zM284.7 122.8h1.5v1.5h-1.5zM287.0 149.6h1.5v1.5h-1.5zM284.7 116.1h1.5v1.5h-1.5zM331.8 155.9h1.5v1.5h-1.5zM296.5 96.2h1.5v1.5h-1.5zM299.2 92.4h1.5v1.5h-1.5zM295.0 169.1h1.5v1.5h-1.5zM330.5 161.5h1.5v1.5h-1.5zM330.6 120.2h1.5v1.5h-1.5zM311.2 79.1h1.5v1.5h-1.5zM329.4 169.1h1.5v1.5h-1.5zM333.1 131.3h1.5v1.5h-1.5zM289.1 145.8h1.5v1.5h-1.5zM283.1 113.4h1.5v1.5h-1.5zM282.5 145.0h1.5v1.5h-1.5zM302.4 87.8h1.5v1.5h-1.5zM332.2 134.8h1.5v1.5h-1.5zM291.9 173.5h1.5v1.5h-1.5zM295.1 176.6h1.5v1.5h-1.5zM331.7 130.5h1.5v1.5h-1.5zM329.2 174.9h1.5v1.5h-1.5zM282.6 128.7h1.5v1.5h-1.5zM331.3 159.2h1.5v1.5h-1.5zM293.2 165.9h1.5v1.5h-1.5zM284.4 128.6h1.5v1.5h-1.5zM292.9 96.6h1.5v1.5h-1.5zM331.3 113.0h1.5v1.5h-1.5zM283.3 141.0h1.5v1.5h-1.5zM330.5 108.4h1.5v1.5h-1.5zM312.5 78.4h1.5v1.5h-1.5zM285.3 144.1h1.5v1.5h-1.5zM286.1 127.3h1.5v1.5h-1.5zM333.6 130.6h1.5v1.5h-1.5zM285.9 134.9h1.5v1.5h-1.5zM289.9 153.2h1.5v1.5h-1.5zM299.4 87.9h1.5v1.5h-1.5zM331.2 138.7h1.5v1.5h-1.5zM309.8 84.1h1.5v1.5h-1.5zM287.1 148.8h1.5v1.5h-1.5zM291.6 94.8h1.5v1.5h-1.5zM283.0 135.6h1.5v1.5h-1.5zM279.9 122.5h1.5v1.5h-1.5zM332.1 135.7h1.5v1.5h-1.5zM330.4 121.5h1.5v1.5h-1.5zM329.0 170.2h1.5v1.5h-1.5zM329.6 109.2h1.5v1.5h-1.5zM332.2 137.7h1.5v1.5h-1.5zM330.9 127.1h1.5v1.5h-1.5zM286.8 149.1h1.5v1.5h-1.5zM332.1 108.6h1.5v1.5h-1.5zM291.8 102.1h1.5v1.5h-1.5zM285.3 113.5h1.5v1.5h-1.5zM286.7 133.6h1.5v1.5h-1.5zM285.9 130.8h1.5v1.5h-1.5zM323.5 90.2h1.5v1.5h-1.5zM287.3 112.8h1.5v1.5h-1.5zM290.1 101.5h1.5v1.5h-1.5zM286.1 143.8h1.5v1.5h-1.5zM302.2 87.2h1.5v1.5h-1.5zM287.0 160.7h1.5v1.5h-1.5zM290.1 157.7h1.5v1.5h-1.5zM332.8 112.9h1.5v1.5h-1.5zM329.8 98.6h1.5v1.5h-1.5zM284.9 128.0h1.5v1.5h-1.5zM289.4 147.9h1.5v1.5h-1.5zM293.3 167.1h1.5v1.5h-1.5zM286.0 138.2h1.5v1.5h-1.5zM289.9 164.4h1.5v1.5h-1.5zM328.4 104.8h1.5v1.5h-1.5zM331.4 116.1h1.5v1.5h-1.5zM286.2 116.6h1.5v1.5h-1.5zM326.6 95.5h1.5v1.5h-1.5zM300.1 88.8h1.5v1.5h-1.5zM287.7 113.8h1.5v1.5h-1.5zM288.1 108.8h1.5v1.5h-1.5zM323.6 90.5h1.5v1.5h-1.5zM330.5 168.0h1.5v1.5h-1.5zM329.9 165.4h1.5v1.5h-1.5zM318.7 80.9h1.5v1.5h-1.5zM284.7 143.7h1.5v1.5h-1.5zM287.2 147.2h1.5v1.5h-1.5zM292.0 161.8h1.5v1.5h-1.5zM323.5 89.4h1.5v1.5h-1.5zM330.8 150.7h1.5v1.5h-1.5zM298.3 94.0h1.5v1.5h-1.5zM286.6 108.0h1.5v1.5h-1.5zM287.8 141.2h1.5v1.5h-1.5zM292.8 161.1h1.5v1.5h-1.5zM331.7 121.1h1.5v1.5h-1.5zM285.3 112.6h1.5v1.5h-1.5zM285.1 106.3h1.5v1.5h-1.5zM291.3 162.6h1.5v1.5h-1.5zM322.9 89.0h1.5v1.5h-1.5zM326.7 98.8h1.5v1.5h-1.5zM288.3 146.8h1.5v1.5h-1.5zM330.3 152.0h1.5v1.5h-1.5zM294.8 171.7h1.5v1.5h-1.5zM328.7 170.1h1.5v1.5h-1.5zM281.8 140.2h1.5v1.5h-1.5zM321.2 83.4h1.5v1.5h-1.5zM294.1 169.9h1.5v1.5h-1.5zM289.5 153.4h1.5v1.5h-1.5zM285.5 103.9h1.5v1.5h-1.5zM329.2 174.0h1.5v1.5h-1.5zM309.8 83.9h1.5v1.5h-1.5zM286.5 118.8h1.5v1.5h-1.5zM331.4 148.0h1.5v1.5h-1.5zM288.9 101.5h1.5v1.5h-1.5zM295.7 170.6h1.5v1.5h-1.5zM330.2 107.6h1.5v1.5h-1.5zM331.1 111.0h1.5v1.5h-1.5zM332.2 132.3h1.5v1.5h-1.5zM283.2 137.3h1.5v1.5h-1.5zM331.1 153.8h1.5v1.5h-1.5zM286.2 113.7h1.5v1.5h-1.5zM308.6 84.0h1.5v1.5h-1.5zM281.7 122.4h1.5v1.5h-1.5zM287.6 110.1h1.5v1.5h-1.5zM307.5 85.1h1.5v1.5h-1.5zM330.1 176.2h1.5v1.5h-1.5zM293.9 175.0h1.5v1.5h-1.5zM302.7 88.8h1.5v1.5h-1.5zM286.2 131.8h1.5v1.5h-1.5zM331.5 169.0h1.5v1.5h-1.5zM283.0 142.6h1.5v1.5h-1.5zM286.4 102.4h1.5v1.5h-1.5zM292.3 161.1h1.5v1.5h-1.5zM328.2 96.4h1.5v1.5h-1.5zM328.5 94.7h1.5v1.5h-1.5zM330.0 160.2h1.5v1.5h-1.5zM290.9 159.7h1.5v1.5h-1.5zM283.4 114.5h1.5v1.5h-1.5zM287.8 101.7h1.5v1.5h-1.5zM332.1 134.1h1.5v1.5h-1.5zM331.3 167.6h1.5v1.5h-1.5zM285.0 126.9h1.5v1.5h-1.5zM285.0 135.5h1.5v1.5h-1.5zM280.9 146.1h1.5v1.5h-1.5zM303.9 86.9h1.5v1.5h-1.5zM286.9 121.5h1.5v1.5h-1.5zM329.5 161.2h1.5v1.5h-1.5zM290.9 155.9h1.5v1.5h-1.5zM281.8 128.9h1.5v1.5h-1.5zM285.3 111.5h1.5v1.5h-1.5zM289.6 167.5h1.5v1.5h-1.5zM286.9 107.3h1.5v1.5h-1.5zM294.4 97.3h1.5v1.5h-1.5zM281.5 110.0h1.5v1.5h-1.5zM329.8 163.7h1.5v1.5h-1.5zM296.0 173.2h1.5v1.5h-1.5zM288.2 145.0h1.5v1.5h-1.5zM286.0 107.4h1.5v1.5h-1.5zM287.6 142.1h1.5v1.5h-1.5zM330.5 112.0h1.5v1.5h-1.5zM289.0 145.2h1.5v1.5h-1.5zM322.8 86.4h1.5v1.5h-1.5zM283.9 119.2h1.5v1.5h-1.5zM285.6 133.9h1.5v1.5h-1.5zM293.4 166.1h1.5v1.5h-1.5zM322.6 89.1h1.5v1.5h-1.5zM285.4 130.5h1.5v1.5h-1.5zM285.9 126.4h1.5v1.5h-1.5zM299.7 89.2h1.5v1.5h-1.5zM286.4 136.3h1.5v1.5h-1.5zM330.8 121.5h1.5v1.5h-1.5zM331.0 132.5h1.5v1.5h-1.5zM328.5 176.1h1.5v1.5h-1.5zM322.9 88.1h1.5v1.5h-1.5zM295.1 173.0h1.5v1.5h-1.5zM291.5 154.7h1.5v1.5h-1.5zM291.6 101.5h1.5v1.5h-1.5zM314.3 79.5h1.5v1.5h-1.5zM287.1 148.0h1.5v1.5h-1.5zM330.5 166.0h1.5v1.5h-1.5zM330.3 168.8h1.5v1.5h-1.5zM326.8 94.6h1.5v1.5h-1.5zM333.1 145.4h1.5v1.5h-1.5zM302.4 90.1h1.5v1.5h-1.5zM281.9 149.5h1.5v1.5h-1.5zM281.9 137.8h1.5v1.5h-1.5zM323.6 89.2h1.5v1.5h-1.5zM288.0 144.8h1.5v1.5h-1.5zM289.7 161.0h1.5v1.5h-1.5zM299.4 89.2h1.5v1.5h-1.5zM292.4 96.3h1.5v1.5h-1.5zM329.3 106.7h1.5v1.5h-1.5zM293.1 164.7h1.5v1.5h-1.5zM330.8 146.3h1.5v1.5h-1.5zM288.3 111.9h1.5v1.5h-1.5zM331.0 127.7h1.5v1.5h-1.5zM326.1 96.0h1.5v1.5h-1.5zM287.4 145.3h1.5v1.5h-1.5zM293.2 161.7h1.5v1.5h-1.5zM291.5 164.4h1.5v1.5h-1.5zM327.6 99.4h1.5v1.5h-1.5zM286.0 136.3h1.5v1.5h-1.5zM283.8 124.3h1.5v1.5h-1.5zM282.9 116.4h1.5v1.5h-1.5zM288.6 111.0h1.5v1.5h-1.5zM331.5 123.5h1.5v1.5h-1.5zM288.7 144.4h1.5v1.5h-1.5zM290.6 105.1h1.5v1.5h-1.5zM333.3 130.3h1.5v1.5h-1.5zM291.3 176.2h1.5v1.5h-1.5zM330.2 164.4h1.5v1.5h-1.5zM331.7 140.7h1.5v1.5h-1.5zM330.9 156.7h1.5v1.5h-1.5zM329.4 170.9h1.5v1.5h-1.5zM285.2 151.2h1.5v1.5h-1.5zM285.1 140.9h1.5v1.5h-1.5zM309.3 84.0h1.5v1.5h-1.5zM330.8 110.0h1.5v1.5h-1.5zM292.1 102.1h1.5v1.5h-1.5zM281.3 112.6h1.5v1.5h-1.5zM286.5 122.9h1.5v1.5h-1.5zM286.7 134.3h1.5v1.5h-1.5zM288.4 107.8h1.5v1.5h-1.5zM287.5 149.9h1.5v1.5h-1.5zM294.5 169.2h1.5v1.5h-1.5zM299.1 85.9h1.5v1.5h-1.5zM332.2 113.3h1.5v1.5h-1.5zM332.2 120.4h1.5v1.5h-1.5zM293.4 167.0h1.5v1.5h-1.5zM290.3 103.5h1.5v1.5h-1.5zM287.6 147.7h1.5v1.5h-1.5zM281.8 117.6h1.5v1.5h-1.5zM284.6 142.2h1.5v1.5h-1.5zM330.9 150.7h1.5v1.5h-1.5zM330.1 158.1h1.5v1.5h-1.5zM286.9 111.8h1.5v1.5h-1.5zM331.1 164.7h1.5v1.5h-1.5zM293.1 169.4h1.5v1.5h-1.5zM283.6 142.2h1.5v1.5h-1.5zM286.0 145.2h1.5v1.5h-1.5zM319.3 82.5h1.5v1.5h-1.5zM286.5 111.1h1.5v1.5h-1.5zM285.2 123.9h1.5v1.5h-1.5zM294.7 169.6h1.5v1.5h-1.5zM330.8 138.8h1.5v1.5h-1.5zM287.8 110.6h1.5v1.5h-1.5zM289.9 154.0h1.5v1.5h-1.5zM288.1 158.6h1.5v1.5h-1.5zM331.5 132.9h1.5v1.5h-1.5zM287.7 137.6h1.5v1.5h-1.5zM331.9 148.4h1.5v1.5h-1.5zM290.3 154.8h1.5v1.5h-1.5zM277.3 122.9h1.5v1.5h-1.5zM331.2 129.8h1.5v1.5h-1.5zM330.8 125.1h1.5v1.5h-1.5zM289.1 154.6h1.5v1.5h-1.5zM291.1 152.9h1.5v1.5h-1.5zM310.3 80.8h1.5v1.5h-1.5zM285.7 133.0h1.5v1.5h-1.5zM294.9 171.0h1.5v1.5h-1.5zM331.2 151.0h1.5v1.5h-1.5zM298.1 94.0h1.5v1.5h-1.5zM294.2 175.3h1.5v1.5h-1.5zM287.3 141.0h1.5v1.5h-1.5zM331.0 110.1h1.5v1.5h-1.5zM324.7 88.7h1.5v1.5h-1.5zM331.2 117.8h1.5v1.5h-1.5zM303.8 83.9h1.5v1.5h-1.5zM330.4 171.6h1.5v1.5h-1.5zM293.1 100.2h1.5v1.5h-1.5zM289.3 100.9h1.5v1.5h-1.5zM331.8 153.2h1.5v1.5h-1.5zM283.2 99.4h1.5v1.5h-1.5zM325.6 93.5h1.5v1.5h-1.5zM331.2 152.4h1.5v1.5h-1.5zM283.2 106.0h1.5v1.5h-1.5zM325.2 94.0h1.5v1.5h-1.5zM281.4 137.2h1.5v1.5h-1.5zM328.5 98.8h1.5v1.5h-1.5zM330.4 113.7h1.5v1.5h-1.5zM330.0 163.5h1.5v1.5h-1.5zM282.5 107.5h1.5v1.5h-1.5zM320.1 78.9h1.5v1.5h-1.5zM325.3 92.9h1.5v1.5h-1.5zM288.3 145.6h1.5v1.5h-1.5zM330.1 111.6h1.5v1.5h-1.5zM289.6 175.0h1.5v1.5h-1.5z" fill="#000"/>
<line x1="203" y1="148" x2="290" y2="148" stroke="#000" stroke-width="1.7"/>
<line x1="290" y1="148" x2="331" y2="148" stroke="#fff" stroke-width="1.9"/>
<line x1="331" y1="148" x2="351" y2="148" stroke="#000" stroke-width="1.7"/>
<line x1="200.5" y1="216" x2="224.5" y2="216" stroke="#000" stroke-width="3"/>
<text x="243" y="223.5" font-size="20" textLength="55" lengthAdjust="spacing">CD25</text>
<line x1="315.5" y1="216.3" x2="350" y2="216.3" stroke="#000" stroke-width="3"/>
<polygon points="363,216.3 348,209.8 349.5,216.3 348,222.8" fill="#000"/>
<line x1="420.2" y1="76" x2="420.2" y2="163" stroke="#000" stroke-width="4.2"/>
<line x1="369.5" y1="123.2" x2="464.5" y2="123.2" stroke="#000" stroke-width="3.2"/>
<text x="384" y="105" font-size="20.5" text-anchor="middle">1</text>
<text x="450" y="105" font-size="20.5" text-anchor="middle" textLength="24" lengthAdjust="spacing">68</text>
<text x="391" y="155.5" font-size="20.5" text-anchor="middle" textLength="26.5" lengthAdjust="spacing">0.1</text>
<text x="450" y="155.5" font-size="20.5" text-anchor="middle">31</text>
<text x="0.5" y="270.5" font-size="23" font-weight="bold">B</text>
<line x1="49.4" y1="421" x2="49.4" y2="298.5" stroke="#000" stroke-width="3"/>
<polygon points="49.4,286 41.15,300.5 57.65,300.5" fill="#000"/>
<text x="61" y="491" font-size="20" textLength="52" lengthAdjust="spacing" transform="rotate(-90 61 491)">CFSE</text>
<line x1="49.6" y1="509" x2="49.6" y2="607.5" stroke="#000" stroke-width="3"/>
<text x="8.5" y="374" font-size="20">SP</text>
<text x="0.5" y="557" font-size="20">LN</text>
<rect x="93" y="285" width="151.5" height="136" fill="none" stroke="#000" stroke-width="1.7"/>
<path d="M104.4 421v2.2M93 410.8h-2.2M111.1 421v2.2M93 404.8h-2.2M115.8 421v2.2M93 400.5h-2.2M119.5 421v2.2M93 397.2h-2.2M122.5 421v2.2M93 394.5h-2.2M125.0 421v2.2M93 392.3h-2.2M127.2 421v2.2M93 390.3h-2.2M129.1 421v2.2M93 388.6h-2.2M142.3 421v2.2M93 376.8h-2.2M148.9 421v2.2M93 370.8h-2.2M153.7 421v2.2M93 366.5h-2.2M157.3 421v2.2M93 363.2h-2.2M160.3 421v2.2M93 360.5h-2.2M162.9 421v2.2M93 358.3h-2.2M165.1 421v2.2M93 356.3h-2.2M167.0 421v2.2M93 354.6h-2.2M180.2 421v2.2M93 342.8h-2.2M186.8 421v2.2M93 336.8h-2.2M191.6 421v2.2M93 332.5h-2.2M195.2 421v2.2M93 329.2h-2.2M198.2 421v2.2M93 326.5h-2.2M200.8 421v2.2M93 324.3h-2.2M203.0 421v2.2M93 322.3h-2.2M204.9 421v2.2M93 320.6h-2.2M218.0 421v2.2M93 308.8h-2.2M224.7 421v2.2M93 302.8h-2.2M229.4 421v2.2M93 298.5h-2.2M233.1 421v2.2M93 295.2h-2.2M236.1 421v2.2M93 292.5h-2.2M238.6 421v2.2M93 290.3h-2.2M240.8 421v2.2M93 288.3h-2.2M242.8 421v2.2M93 286.6h-2.2" stroke="#000" stroke-width="1" fill="none"/>
<path d="M93.0 421v4M93 421.0h-4M130.9 421v4M93 387.0h-4M168.8 421v4M93 353.0h-4M206.6 421v4M93 319.0h-4M244.5 421v4M93 285.0h-4" stroke="#000" stroke-width="1.7" fill="none"/>
<polygon points="93,421 93.0,374.7 94.2,377.1 95.4,376.2 96.6,372.5 97.8,374.5 99.0,372.7 100.2,373.4 101.4,371.4 102.6,370.5 103.8,375.0 105.0,371.4 106.2,374.0 107.4,369.9 108.6,371.6 109.8,369.6 111.0,370.8 112.2,369.3 113.4,371.6 114.6,368.7 115.8,371.4 117.0,370.0 118.2,367.9 119.4,369.0 120.6,369.6 121.8,371.6 123.0,368.7 124.2,367.9 125.4,371.6 126.6,371.0 127.8,370.1 129.0,367.7 130.2,367.1 131.4,367.5 132.6,366.4 133.8,366.0 135.0,368.0 136.2,367.2 137.4,367.6 138.6,366.3 139.8,364.2 141.0,367.3 142.2,366.8 143.4,365.9 144.6,365.7 145.8,366.0 147.0,367.2 148.2,366.3 149.4,365.1 150.6,363.0 151.8,362.1 153.0,362.2 154.2,364.5 155.4,361.1 156.6,360.6 157.8,360.3 159.0,358.5 160.2,362.3 161.4,356.8 162.6,359.2 163.8,360.1 165.0,356.1 166.2,357.2 167.4,355.3 168.6,354.0 169.8,353.1 171.0,352.0 172.2,354.8 173.4,353.8 174.6,354.3 175.8,350.6 177.0,354.5 178.2,353.2 179.4,355.4 180.6,355.6 181.8,355.1 183.0,359.0 184.2,354.8 185.4,359.2 186.6,360.4 187.8,359.3 189.0,360.4 190.2,363.1 191.4,359.7 192.6,362.2 193.8,363.2 195.0,361.9 196.2,364.0 197.4,362.9 198.6,364.1 199.8,365.0 201.0,365.8 202.2,364.5 203.4,366.5 204.6,366.6 205.8,365.2 207.0,367.3 208.2,365.7 209.4,369.1 210.6,367.1 211.8,368.5 213.0,367.6 214.2,367.5 215.4,366.4 216.6,366.2 217.8,370.2 219.0,368.4 220.2,368.5 221.4,368.7 222.6,370.4 223.8,367.8 225.0,367.8 226.2,371.3 227.4,369.8 228.6,371.0 229.8,372.2 231.0,372.8 232.2,372.9 233.4,369.1 234.6,371.3 235.8,374.3 237.0,375.0 238.2,372.3 239.4,373.2 240.6,374.5 241.8,374.9 243.0,377.6 244.2,381.2 244.5,421" fill="#000"/>
<path d="M93.0 372.6h1.8v1.8h-1.8zM92.8 374.0h1.8v1.8h-1.8zM94.0 372.8h1.8v1.8h-1.8zM94.2 371.9h1.8v1.8h-1.8zM94.8 376.9h1.8v1.8h-1.8zM94.6 374.2h1.8v1.8h-1.8zM95.1 372.5h1.8v1.8h-1.8zM95.1 375.7h1.8v1.8h-1.8zM95.1 375.5h1.8v1.8h-1.8zM96.0 371.9h1.8v1.8h-1.8zM96.7 369.6h1.8v1.8h-1.8zM97.0 371.4h1.8v1.8h-1.8zM97.3 372.8h1.8v1.8h-1.8zM98.5 371.2h1.8v1.8h-1.8zM97.0 368.0h1.8v1.8h-1.8zM98.4 365.3h1.8v1.8h-1.8zM98.8 370.9h1.8v1.8h-1.8zM98.7 366.1h1.8v1.8h-1.8zM99.3 368.9h1.8v1.8h-1.8zM100.6 371.7h1.8v1.8h-1.8zM99.8 367.3h1.8v1.8h-1.8zM102.0 367.4h1.8v1.8h-1.8zM101.1 366.4h1.8v1.8h-1.8zM102.2 367.0h1.8v1.8h-1.8zM102.0 362.8h1.8v1.8h-1.8zM102.3 369.1h1.8v1.8h-1.8zM102.9 369.6h1.8v1.8h-1.8zM104.3 373.3h1.8v1.8h-1.8zM103.6 369.2h1.8v1.8h-1.8zM104.6 374.1h1.8v1.8h-1.8zM105.5 364.8h1.8v1.8h-1.8zM104.9 370.3h1.8v1.8h-1.8zM104.9 368.6h1.8v1.8h-1.8zM106.1 369.6h1.8v1.8h-1.8zM107.0 368.6h1.8v1.8h-1.8zM106.2 371.8h1.8v1.8h-1.8zM108.0 366.0h1.8v1.8h-1.8zM107.2 362.7h1.8v1.8h-1.8zM106.5 367.2h1.8v1.8h-1.8zM109.1 365.8h1.8v1.8h-1.8zM109.1 368.9h1.8v1.8h-1.8zM107.8 369.2h1.8v1.8h-1.8zM110.4 367.8h1.8v1.8h-1.8zM110.3 368.3h1.8v1.8h-1.8zM109.9 362.5h1.8v1.8h-1.8zM111.4 368.2h1.8v1.8h-1.8zM111.0 363.6h1.8v1.8h-1.8zM110.8 368.2h1.8v1.8h-1.8zM112.4 360.1h1.8v1.8h-1.8zM112.9 369.2h1.8v1.8h-1.8zM111.5 366.3h1.8v1.8h-1.8zM112.4 366.4h1.8v1.8h-1.8zM114.4 371.0h1.8v1.8h-1.8zM113.0 367.8h1.8v1.8h-1.8zM114.1 364.7h1.8v1.8h-1.8zM114.6 363.8h1.8v1.8h-1.8zM114.4 364.7h1.8v1.8h-1.8zM116.5 370.1h1.8v1.8h-1.8zM116.4 369.0h1.8v1.8h-1.8zM115.2 368.4h1.8v1.8h-1.8zM116.1 365.3h1.8v1.8h-1.8zM116.9 368.9h1.8v1.8h-1.8zM117.0 365.9h1.8v1.8h-1.8zM118.8 365.6h1.8v1.8h-1.8zM117.6 362.4h1.8v1.8h-1.8zM117.3 364.9h1.8v1.8h-1.8zM119.0 364.0h1.8v1.8h-1.8zM119.5 368.0h1.8v1.8h-1.8zM119.0 367.7h1.8v1.8h-1.8zM120.2 360.8h1.8v1.8h-1.8zM121.0 367.5h1.8v1.8h-1.8zM120.5 363.3h1.8v1.8h-1.8zM122.7 362.0h1.8v1.8h-1.8zM120.9 368.2h1.8v1.8h-1.8zM121.7 370.6h1.8v1.8h-1.8zM123.7 367.5h1.8v1.8h-1.8zM122.1 366.1h1.8v1.8h-1.8zM123.8 366.9h1.8v1.8h-1.8zM124.3 366.1h1.8v1.8h-1.8zM124.5 362.3h1.8v1.8h-1.8zM124.5 366.9h1.8v1.8h-1.8zM126.1 368.2h1.8v1.8h-1.8zM124.7 368.6h1.8v1.8h-1.8zM124.6 369.9h1.8v1.8h-1.8zM125.8 368.4h1.8v1.8h-1.8zM126.4 359.0h1.8v1.8h-1.8zM126.9 370.5h1.8v1.8h-1.8zM128.2 359.3h1.8v1.8h-1.8zM127.1 362.9h1.8v1.8h-1.8zM126.9 367.5h1.8v1.8h-1.8zM129.7 366.8h1.8v1.8h-1.8zM129.2 364.2h1.8v1.8h-1.8zM128.6 365.1h1.8v1.8h-1.8zM131.0 366.1h1.8v1.8h-1.8zM129.8 365.6h1.8v1.8h-1.8zM130.8 364.7h1.8v1.8h-1.8zM132.4 366.5h1.8v1.8h-1.8zM131.2 366.7h1.8v1.8h-1.8zM131.7 366.4h1.8v1.8h-1.8zM131.8 360.2h1.8v1.8h-1.8zM132.5 365.7h1.8v1.8h-1.8zM133.0 361.1h1.8v1.8h-1.8zM133.0 364.8h1.8v1.8h-1.8zM134.6 363.8h1.8v1.8h-1.8zM134.8 360.3h1.8v1.8h-1.8zM134.6 365.7h1.8v1.8h-1.8zM134.7 368.0h1.8v1.8h-1.8zM135.9 362.2h1.8v1.8h-1.8zM135.4 357.2h1.8v1.8h-1.8zM136.4 366.2h1.8v1.8h-1.8zM136.3 364.9h1.8v1.8h-1.8zM136.9 366.2h1.8v1.8h-1.8zM138.2 365.6h1.8v1.8h-1.8zM138.2 364.6h1.8v1.8h-1.8zM137.7 355.7h1.8v1.8h-1.8zM138.3 358.7h1.8v1.8h-1.8zM139.5 365.4h1.8v1.8h-1.8zM139.5 362.9h1.8v1.8h-1.8zM139.7 364.1h1.8v1.8h-1.8zM139.2 356.0h1.8v1.8h-1.8zM141.6 366.7h1.8v1.8h-1.8zM141.1 365.5h1.8v1.8h-1.8zM140.2 359.0h1.8v1.8h-1.8zM142.4 364.0h1.8v1.8h-1.8zM142.1 360.9h1.8v1.8h-1.8zM141.4 365.6h1.8v1.8h-1.8zM143.7 361.5h1.8v1.8h-1.8zM143.1 361.1h1.8v1.8h-1.8zM143.1 364.4h1.8v1.8h-1.8zM143.9 363.1h1.8v1.8h-1.8zM145.5 360.9h1.8v1.8h-1.8zM145.3 357.3h1.8v1.8h-1.8zM145.8 364.7h1.8v1.8h-1.8zM146.6 364.2h1.8v1.8h-1.8zM145.0 359.8h1.8v1.8h-1.8zM146.2 367.0h1.8v1.8h-1.8zM146.9 364.0h1.8v1.8h-1.8zM147.0 361.9h1.8v1.8h-1.8zM147.9 364.7h1.8v1.8h-1.8zM147.6 361.5h1.8v1.8h-1.8zM147.5 365.7h1.8v1.8h-1.8zM149.4 354.9h1.8v1.8h-1.8zM150.2 353.1h1.8v1.8h-1.8zM149.4 363.9h1.8v1.8h-1.8zM151.2 356.1h1.8v1.8h-1.8zM150.1 359.7h1.8v1.8h-1.8zM151.1 360.8h1.8v1.8h-1.8zM150.9 358.9h1.8v1.8h-1.8zM151.6 358.0h1.8v1.8h-1.8zM152.6 361.7h1.8v1.8h-1.8zM152.2 359.0h1.8v1.8h-1.8zM153.2 360.4h1.8v1.8h-1.8zM153.6 361.7h1.8v1.8h-1.8zM153.7 362.7h1.8v1.8h-1.8zM154.4 363.0h1.8v1.8h-1.8zM154.4 364.3h1.8v1.8h-1.8zM155.8 359.3h1.8v1.8h-1.8zM156.0 356.9h1.8v1.8h-1.8zM155.3 360.4h1.8v1.8h-1.8zM157.5 360.3h1.8v1.8h-1.8zM156.4 358.8h1.8v1.8h-1.8zM156.1 359.4h1.8v1.8h-1.8zM158.3 359.0h1.8v1.8h-1.8zM157.5 357.7h1.8v1.8h-1.8zM157.1 359.2h1.8v1.8h-1.8zM158.7 355.1h1.8v1.8h-1.8zM160.0 349.6h1.8v1.8h-1.8zM159.0 358.3h1.8v1.8h-1.8zM160.2 360.3h1.8v1.8h-1.8zM160.7 351.6h1.8v1.8h-1.8zM160.5 360.1h1.8v1.8h-1.8zM162.1 350.2h1.8v1.8h-1.8zM162.0 350.2h1.8v1.8h-1.8zM161.1 352.4h1.8v1.8h-1.8zM161.9 351.8h1.8v1.8h-1.8zM163.1 357.6h1.8v1.8h-1.8zM161.9 353.6h1.8v1.8h-1.8zM164.6 349.7h1.8v1.8h-1.8zM164.3 355.6h1.8v1.8h-1.8zM164.0 352.3h1.8v1.8h-1.8zM164.9 352.1h1.8v1.8h-1.8zM165.7 348.3h1.8v1.8h-1.8zM164.6 350.1h1.8v1.8h-1.8zM167.1 355.7h1.8v1.8h-1.8zM165.4 348.5h1.8v1.8h-1.8zM165.7 355.4h1.8v1.8h-1.8zM168.1 355.0h1.8v1.8h-1.8zM167.3 352.0h1.8v1.8h-1.8zM166.9 344.4h1.8v1.8h-1.8zM169.0 353.5h1.8v1.8h-1.8zM169.0 347.2h1.8v1.8h-1.8zM169.2 348.5h1.8v1.8h-1.8zM170.2 344.4h1.8v1.8h-1.8zM169.6 349.8h1.8v1.8h-1.8zM169.0 347.6h1.8v1.8h-1.8zM170.7 344.2h1.8v1.8h-1.8zM171.2 347.4h1.8v1.8h-1.8zM170.0 344.4h1.8v1.8h-1.8zM172.2 352.4h1.8v1.8h-1.8zM172.8 354.6h1.8v1.8h-1.8zM172.0 350.5h1.8v1.8h-1.8zM173.1 350.4h1.8v1.8h-1.8zM172.8 347.9h1.8v1.8h-1.8zM173.6 346.1h1.8v1.8h-1.8zM174.2 351.0h1.8v1.8h-1.8zM175.0 352.3h1.8v1.8h-1.8zM174.5 349.5h1.8v1.8h-1.8zM175.0 343.0h1.8v1.8h-1.8zM176.2 341.7h1.8v1.8h-1.8zM175.2 348.2h1.8v1.8h-1.8zM176.5 349.9h1.8v1.8h-1.8zM176.4 353.2h1.8v1.8h-1.8zM177.8 346.3h1.8v1.8h-1.8zM178.0 346.5h1.8v1.8h-1.8zM178.2 347.5h1.8v1.8h-1.8zM179.2 351.6h1.8v1.8h-1.8zM178.8 354.0h1.8v1.8h-1.8zM179.5 352.8h1.8v1.8h-1.8zM178.4 350.0h1.8v1.8h-1.8zM180.5 344.8h1.8v1.8h-1.8zM181.2 355.6h1.8v1.8h-1.8zM179.8 350.9h1.8v1.8h-1.8zM181.9 351.2h1.8v1.8h-1.8zM181.6 350.5h1.8v1.8h-1.8zM182.7 349.2h1.8v1.8h-1.8zM182.2 354.4h1.8v1.8h-1.8zM183.2 347.2h1.8v1.8h-1.8zM182.7 354.7h1.8v1.8h-1.8zM184.5 351.5h1.8v1.8h-1.8zM184.2 351.2h1.8v1.8h-1.8zM184.6 349.9h1.8v1.8h-1.8zM185.1 356.0h1.8v1.8h-1.8zM186.4 350.3h1.8v1.8h-1.8zM185.8 355.9h1.8v1.8h-1.8zM186.7 352.5h1.8v1.8h-1.8zM187.4 357.7h1.8v1.8h-1.8zM187.1 360.4h1.8v1.8h-1.8zM187.5 358.0h1.8v1.8h-1.8zM187.1 349.3h1.8v1.8h-1.8zM187.1 356.3h1.8v1.8h-1.8zM189.2 359.0h1.8v1.8h-1.8zM188.8 359.7h1.8v1.8h-1.8zM189.5 357.9h1.8v1.8h-1.8zM190.7 359.9h1.8v1.8h-1.8zM189.8 358.0h1.8v1.8h-1.8zM191.2 361.6h1.8v1.8h-1.8zM191.7 357.2h1.8v1.8h-1.8zM191.2 352.7h1.8v1.8h-1.8zM192.3 357.8h1.8v1.8h-1.8zM192.2 354.8h1.8v1.8h-1.8zM191.9 353.9h1.8v1.8h-1.8zM193.2 357.9h1.8v1.8h-1.8zM193.5 359.4h1.8v1.8h-1.8zM194.6 358.6h1.8v1.8h-1.8zM193.1 363.0h1.8v1.8h-1.8zM194.6 358.8h1.8v1.8h-1.8zM194.1 360.4h1.8v1.8h-1.8zM195.9 357.2h1.8v1.8h-1.8zM197.1 362.4h1.8v1.8h-1.8zM197.1 360.1h1.8v1.8h-1.8zM195.6 361.7h1.8v1.8h-1.8zM196.6 358.1h1.8v1.8h-1.8zM196.9 359.0h1.8v1.8h-1.8zM198.3 359.9h1.8v1.8h-1.8zM198.1 361.0h1.8v1.8h-1.8zM198.5 353.6h1.8v1.8h-1.8zM199.3 358.4h1.8v1.8h-1.8zM199.4 358.4h1.8v1.8h-1.8zM199.1 364.7h1.8v1.8h-1.8zM199.9 359.4h1.8v1.8h-1.8zM201.3 365.7h1.8v1.8h-1.8zM200.7 361.8h1.8v1.8h-1.8zM201.8 361.7h1.8v1.8h-1.8zM202.5 363.7h1.8v1.8h-1.8zM201.7 364.3h1.8v1.8h-1.8zM202.9 363.1h1.8v1.8h-1.8zM203.5 359.3h1.8v1.8h-1.8zM202.9 357.1h1.8v1.8h-1.8zM202.9 360.8h1.8v1.8h-1.8zM205.1 363.9h1.8v1.8h-1.8zM205.0 358.8h1.8v1.8h-1.8zM203.8 361.8h1.8v1.8h-1.8zM205.4 357.2h1.8v1.8h-1.8zM206.1 354.9h1.8v1.8h-1.8zM206.2 364.4h1.8v1.8h-1.8zM207.9 362.4h1.8v1.8h-1.8zM207.5 364.6h1.8v1.8h-1.8zM207.6 363.1h1.8v1.8h-1.8zM207.9 361.7h1.8v1.8h-1.8zM208.3 356.4h1.8v1.8h-1.8zM208.2 360.5h1.8v1.8h-1.8zM208.7 359.7h1.8v1.8h-1.8zM209.1 364.4h1.8v1.8h-1.8zM209.4 367.0h1.8v1.8h-1.8zM211.3 363.8h1.8v1.8h-1.8zM210.4 361.4h1.8v1.8h-1.8zM210.7 365.6h1.8v1.8h-1.8zM212.4 358.9h1.8v1.8h-1.8zM212.5 364.1h1.8v1.8h-1.8zM212.3 362.4h1.8v1.8h-1.8zM213.0 359.0h1.8v1.8h-1.8zM213.5 361.2h1.8v1.8h-1.8zM213.6 361.5h1.8v1.8h-1.8zM213.5 359.3h1.8v1.8h-1.8zM214.6 365.6h1.8v1.8h-1.8zM213.8 360.9h1.8v1.8h-1.8zM214.5 359.0h1.8v1.8h-1.8zM214.9 360.8h1.8v1.8h-1.8zM214.8 366.0h1.8v1.8h-1.8zM217.0 364.0h1.8v1.8h-1.8zM217.5 364.6h1.8v1.8h-1.8zM217.0 361.7h1.8v1.8h-1.8zM216.9 367.9h1.8v1.8h-1.8zM216.8 366.5h1.8v1.8h-1.8zM218.1 367.7h1.8v1.8h-1.8zM218.1 365.3h1.8v1.8h-1.8zM218.9 359.9h1.8v1.8h-1.8zM218.1 365.3h1.8v1.8h-1.8zM220.9 365.8h1.8v1.8h-1.8zM220.5 366.2h1.8v1.8h-1.8zM219.9 365.4h1.8v1.8h-1.8zM220.8 363.1h1.8v1.8h-1.8zM222.0 366.3h1.8v1.8h-1.8zM222.0 359.5h1.8v1.8h-1.8zM222.7 361.9h1.8v1.8h-1.8zM221.7 368.8h1.8v1.8h-1.8zM222.6 368.8h1.8v1.8h-1.8zM224.1 367.0h1.8v1.8h-1.8zM224.2 363.5h1.8v1.8h-1.8zM223.8 365.3h1.8v1.8h-1.8zM225.2 366.3h1.8v1.8h-1.8zM226.0 357.8h1.8v1.8h-1.8zM225.6 363.4h1.8v1.8h-1.8zM227.2 370.2h1.8v1.8h-1.8zM225.3 368.7h1.8v1.8h-1.8zM226.1 370.9h1.8v1.8h-1.8zM227.8 368.4h1.8v1.8h-1.8zM227.1 364.5h1.8v1.8h-1.8zM226.8 366.4h1.8v1.8h-1.8zM228.0 368.6h1.8v1.8h-1.8zM229.1 365.6h1.8v1.8h-1.8zM228.0 370.4h1.8v1.8h-1.8zM230.2 370.9h1.8v1.8h-1.8zM229.9 368.5h1.8v1.8h-1.8zM230.2 364.0h1.8v1.8h-1.8zM231.9 371.4h1.8v1.8h-1.8zM231.8 371.4h1.8v1.8h-1.8zM230.1 364.9h1.8v1.8h-1.8zM231.6 363.0h1.8v1.8h-1.8zM232.6 372.1h1.8v1.8h-1.8zM232.5 372.5h1.8v1.8h-1.8zM232.7 364.4h1.8v1.8h-1.8zM233.7 364.8h1.8v1.8h-1.8zM232.5 368.8h1.8v1.8h-1.8zM234.0 364.7h1.8v1.8h-1.8zM235.2 362.8h1.8v1.8h-1.8zM234.5 369.4h1.8v1.8h-1.8zM235.1 372.9h1.8v1.8h-1.8zM236.4 359.3h1.8v1.8h-1.8zM236.6 371.6h1.8v1.8h-1.8zM237.6 365.8h1.8v1.8h-1.8zM236.3 373.6h1.8v1.8h-1.8zM236.2 369.5h1.8v1.8h-1.8zM237.6 370.0h1.8v1.8h-1.8zM237.7 361.5h1.8v1.8h-1.8zM238.6 370.9h1.8v1.8h-1.8zM240.3 367.9h1.8v1.8h-1.8zM239.9 372.6h1.8v1.8h-1.8zM239.2 369.6h1.8v1.8h-1.8zM239.9 365.6h1.8v1.8h-1.8zM239.6 373.0h1.8v1.8h-1.8zM240.4 368.0h1.8v1.8h-1.8zM240.8 370.7h1.8v1.8h-1.8zM241.7 367.2h1.8v1.8h-1.8zM240.9 370.2h1.8v1.8h-1.8zM242.1 373.6h1.8v1.8h-1.8zM242.6 370.2h1.8v1.8h-1.8zM243.0 370.2h1.8v1.8h-1.8zM244.5 380.1h1.8v1.8h-1.8zM245.0 377.6h1.8v1.8h-1.8zM244.0 375.9h1.8v1.8h-1.8zM113.7 338.4h1.8v1.8h-1.8zM162.5 354.6h1.8v1.8h-1.8zM189.2 359.7h1.8v1.8h-1.8zM160.1 332.8h1.8v1.8h-1.8zM202.2 332.3h1.8v1.8h-1.8zM164.7 346.8h1.8v1.8h-1.8zM194.6 360.0h1.8v1.8h-1.8zM130.5 357.3h1.8v1.8h-1.8zM197.4 349.8h1.8v1.8h-1.8zM116.0 368.2h1.8v1.8h-1.8zM183.7 332.6h1.8v1.8h-1.8zM130.3 371.4h1.8v1.8h-1.8zM128.9 346.5h1.8v1.8h-1.8zM211.6 364.6h1.8v1.8h-1.8zM188.8 361.1h1.8v1.8h-1.8zM100.7 333.9h1.8v1.8h-1.8zM239.5 363.7h1.8v1.8h-1.8zM100.6 332.0h1.8v1.8h-1.8zM130.6 369.1h1.8v1.8h-1.8zM127.5 358.2h1.8v1.8h-1.8zM232.7 356.8h1.8v1.8h-1.8zM231.1 341.0h1.8v1.8h-1.8zM117.7 330.8h1.8v1.8h-1.8zM207.1 334.4h1.8v1.8h-1.8zM239.0 359.8h1.8v1.8h-1.8zM122.7 363.9h1.8v1.8h-1.8zM119.1 351.5h1.8v1.8h-1.8zM110.7 363.1h1.8v1.8h-1.8zM226.7 368.5h1.8v1.8h-1.8zM95.3 365.8h1.8v1.8h-1.8zM177.3 364.5h1.8v1.8h-1.8zM169.4 356.0h1.8v1.8h-1.8zM183.0 363.6h1.8v1.8h-1.8zM106.5 332.3h1.8v1.8h-1.8zM175.7 342.2h1.8v1.8h-1.8zM153.7 330.3h1.8v1.8h-1.8zM205.3 331.0h1.8v1.8h-1.8zM217.8 364.1h1.8v1.8h-1.8zM162.8 335.1h1.8v1.8h-1.8zM191.2 338.7h1.8v1.8h-1.8zM158.5 334.6h1.8v1.8h-1.8zM239.5 352.9h1.8v1.8h-1.8zM147.2 333.9h1.8v1.8h-1.8zM203.1 365.7h1.8v1.8h-1.8zM220.6 334.3h1.8v1.8h-1.8zM149.4 342.7h1.8v1.8h-1.8zM207.8 336.2h1.8v1.8h-1.8zM184.8 371.1h1.8v1.8h-1.8zM208.8 330.3h1.8v1.8h-1.8zM106.1 334.8h1.8v1.8h-1.8zM197.5 355.1h1.8v1.8h-1.8zM172.0 349.1h1.8v1.8h-1.8zM155.3 355.7h1.8v1.8h-1.8zM191.0 368.5h1.8v1.8h-1.8zM203.4 363.5h1.8v1.8h-1.8zM230.1 365.2h1.8v1.8h-1.8zM201.1 331.3h1.8v1.8h-1.8zM195.8 365.7h1.8v1.8h-1.8zM158.8 366.9h1.8v1.8h-1.8zM121.6 369.6h1.8v1.8h-1.8zM160.4 359.7h1.8v1.8h-1.8zM132.4 342.6h1.8v1.8h-1.8zM146.6 343.6h1.8v1.8h-1.8zM109.0 348.6h1.8v1.8h-1.8zM240.2 357.5h1.8v1.8h-1.8zM233.0 362.0h1.8v1.8h-1.8zM218.8 371.8h1.8v1.8h-1.8zM206.4 341.5h1.8v1.8h-1.8zM132.0 347.3h1.8v1.8h-1.8zM98.1 339.7h1.8v1.8h-1.8zM107.4 308.7h1.8v1.8h-1.8zM116.7 297.3h1.8v1.8h-1.8zM117.1 302.5h1.8v1.8h-1.8zM125.0 302.5h1.8v1.8h-1.8zM112.6 307.6h1.8v1.8h-1.8zM112.0 298.5h1.8v1.8h-1.8zM114.1 297.2h1.8v1.8h-1.8zM108.9 303.6h1.8v1.8h-1.8zM97.8 294.6h1.8v1.8h-1.8zM99.9 290.7h1.8v1.8h-1.8zM103.9 292.7h1.8v1.8h-1.8zM113.0 296.7h1.8v1.8h-1.8zM130.0 303.6h1.8v1.8h-1.8zM101.2 298.7h1.8v1.8h-1.8zM125.6 304.5h1.8v1.8h-1.8zM96.9 298.1h1.8v1.8h-1.8zM137.4 303.2h1.8v1.8h-1.8zM109.4 298.3h1.8v1.8h-1.8zM115.8 300.8h1.8v1.8h-1.8zM119.4 301.0h1.8v1.8h-1.8zM106.8 307.8h1.8v1.8h-1.8zM99.7 301.9h1.8v1.8h-1.8zM106.5 307.3h1.8v1.8h-1.8zM100.5 295.5h1.8v1.8h-1.8zM107.1 295.3h1.8v1.8h-1.8zM108.4 300.5h1.8v1.8h-1.8zM100.8 301.7h1.8v1.8h-1.8zM97.0 299.4h1.8v1.8h-1.8zM101.9 305.0h1.8v1.8h-1.8zM106.6 307.7h1.8v1.8h-1.8zM100.1 299.9h1.8v1.8h-1.8zM119.7 301.9h1.8v1.8h-1.8zM101.8 299.5h1.8v1.8h-1.8zM109.6 299.2h1.8v1.8h-1.8zM110.1 300.7h1.8v1.8h-1.8zM102.2 304.8h1.8v1.8h-1.8zM101.3 301.6h1.8v1.8h-1.8zM99.0 302.5h1.8v1.8h-1.8zM104.8 306.0h1.8v1.8h-1.8zM115.9 299.3h1.8v1.8h-1.8zM105.9 303.9h1.8v1.8h-1.8zM96.6 303.2h1.8v1.8h-1.8zM100.6 297.8h1.8v1.8h-1.8zM111.7 299.5h1.8v1.8h-1.8zM103.5 302.3h1.8v1.8h-1.8zM147.2 321.1h1.8v1.8h-1.8zM131.3 324.1h1.8v1.8h-1.8zM110.7 316.0h1.8v1.8h-1.8zM100.7 328.6h1.8v1.8h-1.8zM106.2 330.4h1.8v1.8h-1.8zM205.8 296.6h1.8v1.8h-1.8zM212.7 316.2h1.8v1.8h-1.8zM213.8 305.9h1.8v1.8h-1.8zM210.6 301.7h1.8v1.8h-1.8zM202.4 306.2h1.8v1.8h-1.8zM217.3 304.1h1.8v1.8h-1.8zM210.6 306.6h1.8v1.8h-1.8zM197.3 308.2h1.8v1.8h-1.8zM208.3 299.6h1.8v1.8h-1.8zM208.1 299.6h1.8v1.8h-1.8zM196.0 308.0h1.8v1.8h-1.8zM201.1 297.2h1.8v1.8h-1.8zM190.0 306.2h1.8v1.8h-1.8zM204.9 301.9h1.8v1.8h-1.8zM204.5 292.3h1.8v1.8h-1.8zM206.1 309.7h1.8v1.8h-1.8zM205.2 300.5h1.8v1.8h-1.8zM203.6 307.2h1.8v1.8h-1.8zM211.6 308.5h1.8v1.8h-1.8zM205.0 299.5h1.8v1.8h-1.8zM209.9 316.6h1.8v1.8h-1.8zM199.1 311.7h1.8v1.8h-1.8zM208.7 339.4h1.8v1.8h-1.8zM189.6 361.1h1.8v1.8h-1.8zM182.6 343.6h1.8v1.8h-1.8zM200.5 353.7h1.8v1.8h-1.8zM199.9 340.5h1.8v1.8h-1.8zM212.3 345.5h1.8v1.8h-1.8zM198.8 348.2h1.8v1.8h-1.8zM209.7 351.9h1.8v1.8h-1.8zM198.9 339.4h1.8v1.8h-1.8zM200.3 330.0h1.8v1.8h-1.8zM208.1 344.9h1.8v1.8h-1.8zM222.0 336.1h1.8v1.8h-1.8zM209.6 353.7h1.8v1.8h-1.8zM203.6 340.8h1.8v1.8h-1.8zM206.6 331.7h1.8v1.8h-1.8zM193.2 353.4h1.8v1.8h-1.8zM207.1 339.1h1.8v1.8h-1.8zM190.1 341.4h1.8v1.8h-1.8zM160.5 295.0h1.8v1.8h-1.8zM153.0 301.0h1.8v1.8h-1.8z" fill="#000"/>
<path d="M240.2 404.6h1.3v1.3h-1.3zM237.0 411.4h1.3v1.3h-1.3zM242.6 408.6h1.3v1.3h-1.3zM242.0 392.2h1.3v1.3h-1.3zM242.3 384.0h1.3v1.3h-1.3zM237.6 402.3h1.3v1.3h-1.3zM242.3 379.6h1.3v1.3h-1.3zM237.5 377.6h1.3v1.3h-1.3zM239.1 382.2h1.3v1.3h-1.3zM237.3 409.0h1.3v1.3h-1.3zM240.1 417.3h1.3v1.3h-1.3zM238.8 405.9h1.3v1.3h-1.3zM236.1 417.7h1.3v1.3h-1.3zM237.6 397.0h1.3v1.3h-1.3zM239.6 417.7h1.3v1.3h-1.3zM239.4 419.6h1.3v1.3h-1.3zM240.3 385.5h1.3v1.3h-1.3zM241.8 384.9h1.3v1.3h-1.3zM243.0 396.1h1.3v1.3h-1.3zM237.6 418.3h1.3v1.3h-1.3zM238.3 393.9h1.3v1.3h-1.3zM238.4 405.4h1.3v1.3h-1.3zM236.2 392.5h1.3v1.3h-1.3zM237.1 412.4h1.3v1.3h-1.3zM236.0 402.7h1.3v1.3h-1.3z" fill="#fff"/>
<rect x="94.5" y="285.7" width="57.5" height="48.5" fill="none" stroke="#000" stroke-width="3.6"/>
<text x="86" y="419" font-size="18" transform="rotate(-90 86 419)" class="t">10<tspan dy="-7.6" font-size="10.5">0</tspan></text>
<text x="86" y="385" font-size="18" transform="rotate(-90 86 385)" class="t">10<tspan dy="-7.6" font-size="10.5">1</tspan></text>
<text x="86" y="351" font-size="18" transform="rotate(-90 86 351)" class="t">10<tspan dy="-7.6" font-size="10.5">2</tspan></text>
<text x="86" y="316" font-size="18" transform="rotate(-90 86 316)" class="t">10<tspan dy="-7.6" font-size="10.5">3</tspan></text>
<text x="86" y="281" font-size="18" transform="rotate(-90 86 281)" class="t">10<tspan dy="-7.6" font-size="10.5">4</tspan></text>
<text x="94.5" y="441" font-size="18" class="t">10<tspan dy="-7.6" font-size="10.5">0</tspan></text>
<text x="131.5" y="441" font-size="18" class="t">10<tspan dy="-7.6" font-size="10.5">1</tspan></text>
<text x="168.5" y="441" font-size="18" class="t">10<tspan dy="-7.6" font-size="10.5">2</tspan></text>
<text x="205.5" y="441" font-size="18" class="t">10<tspan dy="-7.6" font-size="10.5">3</tspan></text>
<text x="244" y="441" font-size="17">10</text>
<rect x="93" y="471" width="154.5" height="139.5" fill="none" stroke="#000" stroke-width="1.7"/>
<path d="M104.6 610.5v2.2M93 600.0h-2.2M111.4 610.5v2.2M93 593.9h-2.2M116.3 610.5v2.2M93 589.5h-2.2M120.0 610.5v2.2M93 586.1h-2.2M123.1 610.5v2.2M93 583.4h-2.2M125.6 610.5v2.2M93 581.0h-2.2M127.9 610.5v2.2M93 579.0h-2.2M129.9 610.5v2.2M93 577.2h-2.2M143.3 610.5v2.2M93 565.1h-2.2M150.1 610.5v2.2M93 559.0h-2.2M154.9 610.5v2.2M93 554.6h-2.2M158.6 610.5v2.2M93 551.2h-2.2M161.7 610.5v2.2M93 548.5h-2.2M164.3 610.5v2.2M93 546.2h-2.2M166.5 610.5v2.2M93 544.1h-2.2M168.5 610.5v2.2M93 542.3h-2.2M181.9 610.5v2.2M93 530.3h-2.2M188.7 610.5v2.2M93 524.1h-2.2M193.5 610.5v2.2M93 519.8h-2.2M197.2 610.5v2.2M93 516.4h-2.2M200.3 610.5v2.2M93 513.6h-2.2M202.9 610.5v2.2M93 511.3h-2.2M205.1 610.5v2.2M93 509.3h-2.2M207.1 610.5v2.2M93 507.5h-2.2M220.5 610.5v2.2M93 495.4h-2.2M227.3 610.5v2.2M93 489.2h-2.2M232.1 610.5v2.2M93 484.9h-2.2M235.9 610.5v2.2M93 481.5h-2.2M238.9 610.5v2.2M93 478.7h-2.2M241.5 610.5v2.2M93 476.4h-2.2M243.8 610.5v2.2M93 474.4h-2.2M245.7 610.5v2.2M93 472.6h-2.2" stroke="#000" stroke-width="1" fill="none"/>
<path d="M93.0 610.5v4M93 610.5h-4M131.6 610.5v4M93 575.6h-4M170.2 610.5v4M93 540.8h-4M208.9 610.5v4M93 505.9h-4M247.5 610.5v4M93 471.0h-4" stroke="#000" stroke-width="1.7" fill="none"/>
<polygon points="93,610.5 93.0,569.8 94.2,570.5 95.4,570.7 96.6,571.1 97.8,567.9 99.0,568.1 100.2,567.2 101.4,571.1 102.6,566.7 103.8,566.3 105.0,567.9 106.2,567.9 107.4,569.1 108.6,564.7 109.8,565.2 111.0,564.6 112.2,566.3 113.4,565.3 114.6,564.8 115.8,566.8 117.0,565.3 118.2,566.0 119.4,566.1 120.6,562.4 121.8,565.4 123.0,562.4 124.2,560.3 125.4,564.2 126.6,559.9 127.8,559.2 129.0,560.3 130.2,560.0 131.4,563.2 132.6,562.4 133.8,559.9 135.0,560.2 136.2,561.5 137.4,561.0 138.6,560.0 139.8,559.0 141.0,556.8 142.2,557.2 143.4,558.9 144.6,558.1 145.8,558.8 147.0,559.0 148.2,558.9 149.4,554.7 150.6,553.7 151.8,557.5 153.0,555.5 154.2,553.2 155.4,555.3 156.6,552.7 157.8,552.1 159.0,552.3 160.2,552.7 161.4,553.0 162.6,549.5 163.8,552.4 165.0,551.4 166.2,550.2 167.4,550.8 168.6,551.3 169.8,547.1 171.0,549.3 172.2,550.1 173.4,550.1 174.6,549.6 175.8,547.1 177.0,550.8 178.2,550.2 179.4,547.8 180.6,549.1 181.8,552.0 183.0,548.5 184.2,549.8 185.4,552.9 186.6,552.9 187.8,549.9 189.0,552.8 190.2,551.2 191.4,553.1 192.6,554.0 193.8,551.1 195.0,551.9 196.2,552.3 197.4,552.9 198.6,552.1 199.8,552.9 201.0,554.6 202.2,555.1 203.4,553.7 204.6,556.6 205.8,558.8 207.0,557.3 208.2,556.6 209.4,558.7 210.6,557.8 211.8,556.8 213.0,558.5 214.2,556.4 215.4,559.8 216.6,557.4 217.8,558.6 219.0,561.7 220.2,560.9 221.4,561.4 222.6,560.5 223.8,560.6 225.0,561.1 226.2,562.6 227.4,558.9 228.6,561.9 229.8,559.8 231.0,559.8 232.2,562.8 233.4,561.9 234.6,563.3 235.8,563.7 237.0,562.4 238.2,560.7 239.4,560.0 240.6,563.0 241.8,564.5 243.0,562.8 244.2,562.3 245.4,562.5 246.6,563.9 247.5,610.5" fill="#000"/>
<path d="M93.4 564.5h1.8v1.8h-1.8zM92.0 569.3h1.8v1.8h-1.8zM93.4 566.3h1.8v1.8h-1.8zM95.2 568.3h1.8v1.8h-1.8zM95.1 570.2h1.8v1.8h-1.8zM95.1 568.0h1.8v1.8h-1.8zM95.4 567.4h1.8v1.8h-1.8zM95.0 566.2h1.8v1.8h-1.8zM94.9 568.1h1.8v1.8h-1.8zM95.7 568.8h1.8v1.8h-1.8zM95.8 569.8h1.8v1.8h-1.8zM96.8 569.9h1.8v1.8h-1.8zM98.4 564.6h1.8v1.8h-1.8zM98.3 565.1h1.8v1.8h-1.8zM97.2 563.5h1.8v1.8h-1.8zM99.9 566.8h1.8v1.8h-1.8zM98.3 567.6h1.8v1.8h-1.8zM99.4 562.7h1.8v1.8h-1.8zM99.7 562.5h1.8v1.8h-1.8zM100.8 566.6h1.8v1.8h-1.8zM100.4 565.3h1.8v1.8h-1.8zM100.8 568.9h1.8v1.8h-1.8zM102.0 563.2h1.8v1.8h-1.8zM100.9 565.5h1.8v1.8h-1.8zM102.7 563.0h1.8v1.8h-1.8zM101.9 564.6h1.8v1.8h-1.8zM101.8 561.1h1.8v1.8h-1.8zM104.1 566.1h1.8v1.8h-1.8zM103.6 562.9h1.8v1.8h-1.8zM103.9 566.1h1.8v1.8h-1.8zM105.4 566.8h1.8v1.8h-1.8zM104.4 566.3h1.8v1.8h-1.8zM105.4 561.7h1.8v1.8h-1.8zM106.4 565.4h1.8v1.8h-1.8zM105.8 566.2h1.8v1.8h-1.8zM106.5 567.7h1.8v1.8h-1.8zM106.9 566.5h1.8v1.8h-1.8zM107.9 565.8h1.8v1.8h-1.8zM108.3 562.8h1.8v1.8h-1.8zM109.2 563.2h1.8v1.8h-1.8zM109.0 561.0h1.8v1.8h-1.8zM107.7 563.2h1.8v1.8h-1.8zM108.9 564.0h1.8v1.8h-1.8zM109.8 559.2h1.8v1.8h-1.8zM110.6 556.7h1.8v1.8h-1.8zM110.9 563.8h1.8v1.8h-1.8zM111.0 562.4h1.8v1.8h-1.8zM111.0 559.9h1.8v1.8h-1.8zM112.3 560.9h1.8v1.8h-1.8zM112.8 565.0h1.8v1.8h-1.8zM112.0 565.2h1.8v1.8h-1.8zM113.4 565.2h1.8v1.8h-1.8zM112.8 558.6h1.8v1.8h-1.8zM113.0 558.3h1.8v1.8h-1.8zM115.1 563.7h1.8v1.8h-1.8zM114.3 555.0h1.8v1.8h-1.8zM115.5 561.4h1.8v1.8h-1.8zM116.0 562.9h1.8v1.8h-1.8zM116.1 563.8h1.8v1.8h-1.8zM115.4 554.5h1.8v1.8h-1.8zM117.8 562.4h1.8v1.8h-1.8zM116.3 559.2h1.8v1.8h-1.8zM116.6 564.0h1.8v1.8h-1.8zM117.3 566.0h1.8v1.8h-1.8zM118.1 558.3h1.8v1.8h-1.8zM117.4 564.4h1.8v1.8h-1.8zM120.3 564.9h1.8v1.8h-1.8zM118.5 564.3h1.8v1.8h-1.8zM118.7 558.7h1.8v1.8h-1.8zM119.8 559.9h1.8v1.8h-1.8zM120.7 561.2h1.8v1.8h-1.8zM121.3 561.0h1.8v1.8h-1.8zM122.3 563.0h1.8v1.8h-1.8zM121.7 564.2h1.8v1.8h-1.8zM121.3 563.4h1.8v1.8h-1.8zM123.9 559.8h1.8v1.8h-1.8zM123.5 560.0h1.8v1.8h-1.8zM123.8 558.2h1.8v1.8h-1.8zM125.1 557.4h1.8v1.8h-1.8zM124.4 559.1h1.8v1.8h-1.8zM124.6 555.4h1.8v1.8h-1.8zM125.9 562.2h1.8v1.8h-1.8zM126.3 562.1h1.8v1.8h-1.8zM124.6 562.7h1.8v1.8h-1.8zM126.1 556.1h1.8v1.8h-1.8zM126.1 546.4h1.8v1.8h-1.8zM125.9 557.2h1.8v1.8h-1.8zM128.5 558.0h1.8v1.8h-1.8zM128.3 556.7h1.8v1.8h-1.8zM127.5 557.4h1.8v1.8h-1.8zM129.6 556.0h1.8v1.8h-1.8zM129.7 559.7h1.8v1.8h-1.8zM129.5 560.0h1.8v1.8h-1.8zM130.4 551.1h1.8v1.8h-1.8zM129.9 553.5h1.8v1.8h-1.8zM130.9 558.5h1.8v1.8h-1.8zM131.1 559.9h1.8v1.8h-1.8zM131.1 560.5h1.8v1.8h-1.8zM130.6 559.7h1.8v1.8h-1.8zM132.1 558.5h1.8v1.8h-1.8zM132.9 559.9h1.8v1.8h-1.8zM133.4 562.3h1.8v1.8h-1.8zM134.6 556.5h1.8v1.8h-1.8zM134.4 552.6h1.8v1.8h-1.8zM134.3 559.5h1.8v1.8h-1.8zM135.6 560.0h1.8v1.8h-1.8zM134.8 553.6h1.8v1.8h-1.8zM135.7 556.4h1.8v1.8h-1.8zM135.9 557.3h1.8v1.8h-1.8zM136.8 556.6h1.8v1.8h-1.8zM136.9 554.3h1.8v1.8h-1.8zM138.2 554.2h1.8v1.8h-1.8zM137.9 552.9h1.8v1.8h-1.8zM137.8 560.2h1.8v1.8h-1.8zM139.3 558.9h1.8v1.8h-1.8zM138.7 556.1h1.8v1.8h-1.8zM139.2 558.9h1.8v1.8h-1.8zM140.4 556.9h1.8v1.8h-1.8zM139.5 556.8h1.8v1.8h-1.8zM139.3 555.8h1.8v1.8h-1.8zM140.1 554.4h1.8v1.8h-1.8zM141.6 556.6h1.8v1.8h-1.8zM140.1 555.1h1.8v1.8h-1.8zM142.7 555.6h1.8v1.8h-1.8zM142.0 552.4h1.8v1.8h-1.8zM142.8 553.4h1.8v1.8h-1.8zM143.7 557.8h1.8v1.8h-1.8zM144.2 549.4h1.8v1.8h-1.8zM143.9 557.1h1.8v1.8h-1.8zM144.2 554.0h1.8v1.8h-1.8zM143.8 554.0h1.8v1.8h-1.8zM144.8 555.5h1.8v1.8h-1.8zM145.8 554.1h1.8v1.8h-1.8zM145.6 554.0h1.8v1.8h-1.8zM145.2 554.3h1.8v1.8h-1.8zM146.7 551.5h1.8v1.8h-1.8zM147.4 550.4h1.8v1.8h-1.8zM146.2 557.9h1.8v1.8h-1.8zM148.4 558.3h1.8v1.8h-1.8zM148.1 557.9h1.8v1.8h-1.8zM147.4 554.2h1.8v1.8h-1.8zM149.4 551.3h1.8v1.8h-1.8zM149.1 547.5h1.8v1.8h-1.8zM148.8 554.4h1.8v1.8h-1.8zM150.0 545.6h1.8v1.8h-1.8zM151.4 548.9h1.8v1.8h-1.8zM150.4 553.5h1.8v1.8h-1.8zM152.2 554.7h1.8v1.8h-1.8zM151.4 556.2h1.8v1.8h-1.8zM151.5 557.1h1.8v1.8h-1.8zM153.1 552.6h1.8v1.8h-1.8zM153.0 554.2h1.8v1.8h-1.8zM153.9 553.3h1.8v1.8h-1.8zM155.2 545.7h1.8v1.8h-1.8zM153.6 550.2h1.8v1.8h-1.8zM155.0 545.9h1.8v1.8h-1.8zM156.1 552.9h1.8v1.8h-1.8zM155.1 552.6h1.8v1.8h-1.8zM154.4 553.9h1.8v1.8h-1.8zM156.6 544.9h1.8v1.8h-1.8zM157.5 546.9h1.8v1.8h-1.8zM156.6 547.4h1.8v1.8h-1.8zM157.1 549.8h1.8v1.8h-1.8zM158.1 550.6h1.8v1.8h-1.8zM158.0 547.7h1.8v1.8h-1.8zM158.5 551.6h1.8v1.8h-1.8zM159.0 547.7h1.8v1.8h-1.8zM158.9 551.9h1.8v1.8h-1.8zM159.9 552.4h1.8v1.8h-1.8zM160.6 552.6h1.8v1.8h-1.8zM159.7 549.4h1.8v1.8h-1.8zM161.4 550.2h1.8v1.8h-1.8zM162.2 547.5h1.8v1.8h-1.8zM160.8 546.8h1.8v1.8h-1.8zM163.1 545.8h1.8v1.8h-1.8zM163.0 548.6h1.8v1.8h-1.8zM163.3 546.0h1.8v1.8h-1.8zM164.7 542.2h1.8v1.8h-1.8zM163.7 548.9h1.8v1.8h-1.8zM163.0 545.1h1.8v1.8h-1.8zM165.4 548.0h1.8v1.8h-1.8zM164.3 545.2h1.8v1.8h-1.8zM166.0 549.8h1.8v1.8h-1.8zM165.9 549.8h1.8v1.8h-1.8zM165.6 546.8h1.8v1.8h-1.8zM165.5 544.9h1.8v1.8h-1.8zM167.0 547.5h1.8v1.8h-1.8zM166.7 550.4h1.8v1.8h-1.8zM166.8 548.9h1.8v1.8h-1.8zM168.2 548.4h1.8v1.8h-1.8zM168.6 551.2h1.8v1.8h-1.8zM168.5 546.1h1.8v1.8h-1.8zM170.7 546.3h1.8v1.8h-1.8zM169.7 545.2h1.8v1.8h-1.8zM169.1 541.4h1.8v1.8h-1.8zM170.3 543.0h1.8v1.8h-1.8zM171.9 546.2h1.8v1.8h-1.8zM170.8 546.4h1.8v1.8h-1.8zM171.9 546.4h1.8v1.8h-1.8zM172.6 548.1h1.8v1.8h-1.8zM172.9 548.5h1.8v1.8h-1.8zM173.5 541.3h1.8v1.8h-1.8zM173.9 549.7h1.8v1.8h-1.8zM173.1 543.2h1.8v1.8h-1.8zM174.4 542.2h1.8v1.8h-1.8zM174.5 547.9h1.8v1.8h-1.8zM174.9 544.1h1.8v1.8h-1.8zM176.3 544.7h1.8v1.8h-1.8zM175.5 546.3h1.8v1.8h-1.8zM176.5 545.5h1.8v1.8h-1.8zM177.4 545.0h1.8v1.8h-1.8zM176.7 545.4h1.8v1.8h-1.8zM176.8 548.9h1.8v1.8h-1.8zM177.6 543.0h1.8v1.8h-1.8zM178.8 543.9h1.8v1.8h-1.8zM177.3 547.9h1.8v1.8h-1.8zM179.4 543.2h1.8v1.8h-1.8zM179.1 544.5h1.8v1.8h-1.8zM179.5 545.2h1.8v1.8h-1.8zM181.5 545.8h1.8v1.8h-1.8zM180.3 545.1h1.8v1.8h-1.8zM180.4 542.9h1.8v1.8h-1.8zM181.3 547.0h1.8v1.8h-1.8zM181.5 548.7h1.8v1.8h-1.8zM182.6 549.2h1.8v1.8h-1.8zM183.1 547.9h1.8v1.8h-1.8zM183.6 544.5h1.8v1.8h-1.8zM182.3 548.2h1.8v1.8h-1.8zM183.6 549.0h1.8v1.8h-1.8zM183.3 549.0h1.8v1.8h-1.8zM183.7 547.5h1.8v1.8h-1.8zM184.5 552.3h1.8v1.8h-1.8zM185.8 545.6h1.8v1.8h-1.8zM186.2 547.5h1.8v1.8h-1.8zM187.4 551.0h1.8v1.8h-1.8zM185.8 548.6h1.8v1.8h-1.8zM186.0 550.7h1.8v1.8h-1.8zM188.3 547.1h1.8v1.8h-1.8zM187.0 546.4h1.8v1.8h-1.8zM188.5 549.8h1.8v1.8h-1.8zM190.0 546.7h1.8v1.8h-1.8zM188.1 550.6h1.8v1.8h-1.8zM188.0 552.0h1.8v1.8h-1.8zM190.6 549.7h1.8v1.8h-1.8zM189.5 549.6h1.8v1.8h-1.8zM189.6 546.0h1.8v1.8h-1.8zM192.3 548.8h1.8v1.8h-1.8zM191.1 548.3h1.8v1.8h-1.8zM191.2 552.5h1.8v1.8h-1.8zM192.1 552.6h1.8v1.8h-1.8zM193.6 541.8h1.8v1.8h-1.8zM193.0 552.7h1.8v1.8h-1.8zM193.1 548.6h1.8v1.8h-1.8zM193.5 551.0h1.8v1.8h-1.8zM193.9 549.6h1.8v1.8h-1.8zM195.4 547.2h1.8v1.8h-1.8zM195.6 550.9h1.8v1.8h-1.8zM195.2 543.1h1.8v1.8h-1.8zM196.4 549.5h1.8v1.8h-1.8zM195.9 543.7h1.8v1.8h-1.8zM196.9 545.7h1.8v1.8h-1.8zM198.2 550.5h1.8v1.8h-1.8zM196.8 551.9h1.8v1.8h-1.8zM197.2 552.7h1.8v1.8h-1.8zM199.2 551.7h1.8v1.8h-1.8zM199.2 551.6h1.8v1.8h-1.8zM199.2 552.0h1.8v1.8h-1.8zM199.6 550.1h1.8v1.8h-1.8zM200.3 547.8h1.8v1.8h-1.8zM199.6 542.1h1.8v1.8h-1.8zM201.9 551.9h1.8v1.8h-1.8zM201.2 552.9h1.8v1.8h-1.8zM200.5 550.6h1.8v1.8h-1.8zM203.0 553.0h1.8v1.8h-1.8zM202.8 547.4h1.8v1.8h-1.8zM203.2 553.6h1.8v1.8h-1.8zM203.9 550.1h1.8v1.8h-1.8zM202.9 551.7h1.8v1.8h-1.8zM204.1 552.0h1.8v1.8h-1.8zM204.6 555.0h1.8v1.8h-1.8zM203.8 546.6h1.8v1.8h-1.8zM205.5 556.5h1.8v1.8h-1.8zM206.3 556.2h1.8v1.8h-1.8zM205.9 553.8h1.8v1.8h-1.8zM205.7 555.5h1.8v1.8h-1.8zM207.9 550.7h1.8v1.8h-1.8zM206.2 553.3h1.8v1.8h-1.8zM206.6 550.5h1.8v1.8h-1.8zM208.1 550.6h1.8v1.8h-1.8zM208.7 556.3h1.8v1.8h-1.8zM208.5 549.3h1.8v1.8h-1.8zM208.6 551.5h1.8v1.8h-1.8zM208.8 558.4h1.8v1.8h-1.8zM209.7 558.0h1.8v1.8h-1.8zM211.4 553.5h1.8v1.8h-1.8zM211.5 553.0h1.8v1.8h-1.8zM210.7 557.7h1.8v1.8h-1.8zM212.4 556.5h1.8v1.8h-1.8zM212.5 551.9h1.8v1.8h-1.8zM211.6 552.0h1.8v1.8h-1.8zM212.2 557.0h1.8v1.8h-1.8zM213.5 554.4h1.8v1.8h-1.8zM212.1 553.2h1.8v1.8h-1.8zM215.2 549.2h1.8v1.8h-1.8zM213.5 554.5h1.8v1.8h-1.8zM214.5 553.9h1.8v1.8h-1.8zM216.0 557.4h1.8v1.8h-1.8zM214.5 557.9h1.8v1.8h-1.8zM216.1 559.5h1.8v1.8h-1.8zM217.4 552.5h1.8v1.8h-1.8zM216.5 556.3h1.8v1.8h-1.8zM217.0 556.8h1.8v1.8h-1.8zM218.7 554.5h1.8v1.8h-1.8zM217.2 553.2h1.8v1.8h-1.8zM217.0 552.3h1.8v1.8h-1.8zM218.4 557.6h1.8v1.8h-1.8zM218.3 561.7h1.8v1.8h-1.8zM219.9 553.9h1.8v1.8h-1.8zM219.7 559.6h1.8v1.8h-1.8zM221.0 559.1h1.8v1.8h-1.8zM220.4 551.2h1.8v1.8h-1.8zM222.3 560.5h1.8v1.8h-1.8zM221.5 555.1h1.8v1.8h-1.8zM222.1 559.4h1.8v1.8h-1.8zM223.4 559.8h1.8v1.8h-1.8zM223.2 557.5h1.8v1.8h-1.8zM222.1 553.8h1.8v1.8h-1.8zM223.7 555.6h1.8v1.8h-1.8zM224.6 550.3h1.8v1.8h-1.8zM223.1 558.3h1.8v1.8h-1.8zM224.8 555.9h1.8v1.8h-1.8zM224.3 557.8h1.8v1.8h-1.8zM225.0 557.3h1.8v1.8h-1.8zM225.7 558.8h1.8v1.8h-1.8zM226.7 558.4h1.8v1.8h-1.8zM226.4 557.7h1.8v1.8h-1.8zM227.1 550.9h1.8v1.8h-1.8zM228.3 556.4h1.8v1.8h-1.8zM227.6 558.6h1.8v1.8h-1.8zM229.5 557.7h1.8v1.8h-1.8zM228.2 558.2h1.8v1.8h-1.8zM227.7 561.3h1.8v1.8h-1.8zM229.4 557.6h1.8v1.8h-1.8zM230.1 549.7h1.8v1.8h-1.8zM230.2 555.6h1.8v1.8h-1.8zM230.7 553.7h1.8v1.8h-1.8zM231.1 557.8h1.8v1.8h-1.8zM231.7 557.7h1.8v1.8h-1.8zM232.4 559.1h1.8v1.8h-1.8zM231.8 559.5h1.8v1.8h-1.8zM233.1 562.2h1.8v1.8h-1.8zM232.5 556.2h1.8v1.8h-1.8zM232.8 561.6h1.8v1.8h-1.8zM233.4 555.6h1.8v1.8h-1.8zM234.9 557.6h1.8v1.8h-1.8zM235.0 550.8h1.8v1.8h-1.8zM235.0 557.1h1.8v1.8h-1.8zM236.2 562.2h1.8v1.8h-1.8zM235.7 563.7h1.8v1.8h-1.8zM236.7 561.4h1.8v1.8h-1.8zM236.0 557.1h1.8v1.8h-1.8zM236.8 557.5h1.8v1.8h-1.8zM237.6 559.0h1.8v1.8h-1.8zM237.2 559.9h1.8v1.8h-1.8zM238.9 558.0h1.8v1.8h-1.8zM237.4 557.5h1.8v1.8h-1.8zM240.2 558.5h1.8v1.8h-1.8zM239.4 554.8h1.8v1.8h-1.8zM239.2 549.5h1.8v1.8h-1.8zM241.0 555.2h1.8v1.8h-1.8zM241.6 559.5h1.8v1.8h-1.8zM239.8 562.9h1.8v1.8h-1.8zM241.1 560.9h1.8v1.8h-1.8zM241.5 558.6h1.8v1.8h-1.8zM242.8 555.0h1.8v1.8h-1.8zM244.0 558.1h1.8v1.8h-1.8zM242.3 558.2h1.8v1.8h-1.8zM243.5 558.7h1.8v1.8h-1.8zM245.0 561.0h1.8v1.8h-1.8zM243.7 560.6h1.8v1.8h-1.8zM243.5 560.3h1.8v1.8h-1.8zM245.6 561.7h1.8v1.8h-1.8zM245.4 560.0h1.8v1.8h-1.8zM245.5 558.2h1.8v1.8h-1.8zM246.7 562.2h1.8v1.8h-1.8zM245.6 559.5h1.8v1.8h-1.8zM246.1 562.3h1.8v1.8h-1.8zM209.3 542.3h1.8v1.8h-1.8zM219.4 542.2h1.8v1.8h-1.8zM109.0 549.3h1.8v1.8h-1.8zM153.5 545.1h1.8v1.8h-1.8zM210.5 541.7h1.8v1.8h-1.8zM196.2 560.0h1.8v1.8h-1.8zM163.3 550.1h1.8v1.8h-1.8zM234.5 553.1h1.8v1.8h-1.8zM122.3 537.1h1.8v1.8h-1.8zM107.4 544.9h1.8v1.8h-1.8zM108.4 554.5h1.8v1.8h-1.8zM159.0 544.3h1.8v1.8h-1.8zM172.3 563.1h1.8v1.8h-1.8zM131.9 539.6h1.8v1.8h-1.8zM141.1 544.7h1.8v1.8h-1.8zM232.4 556.2h1.8v1.8h-1.8zM159.8 540.0h1.8v1.8h-1.8zM101.9 538.7h1.8v1.8h-1.8zM223.0 554.4h1.8v1.8h-1.8zM118.6 553.8h1.8v1.8h-1.8zM103.8 550.2h1.8v1.8h-1.8zM145.6 538.1h1.8v1.8h-1.8zM207.1 556.5h1.8v1.8h-1.8zM172.1 540.0h1.8v1.8h-1.8zM196.1 548.0h1.8v1.8h-1.8zM194.8 537.7h1.8v1.8h-1.8zM231.3 535.1h1.8v1.8h-1.8zM128.6 547.0h1.8v1.8h-1.8zM125.0 537.6h1.8v1.8h-1.8zM198.8 564.8h1.8v1.8h-1.8zM119.5 483.0h1.8v1.8h-1.8zM108.0 494.0h1.8v1.8h-1.8zM119.5 495.0h1.8v1.8h-1.8zM103.0 501.0h1.8v1.8h-1.8zM111.5 515.0h1.8v1.8h-1.8zM183.0 490.0h1.8v1.8h-1.8zM193.0 486.0h1.8v1.8h-1.8zM193.0 490.0h1.8v1.8h-1.8zM193.0 494.0h1.8v1.8h-1.8zM193.0 499.0h1.8v1.8h-1.8zM202.0 486.0h1.8v1.8h-1.8zM212.0 491.0h1.8v1.8h-1.8zM215.0 494.0h1.8v1.8h-1.8zM217.0 498.0h1.8v1.8h-1.8zM181.0 514.0h1.8v1.8h-1.8zM188.0 514.0h1.8v1.8h-1.8zM183.0 525.0h1.8v1.8h-1.8zM178.0 533.0h1.8v1.8h-1.8zM183.0 541.0h1.8v1.8h-1.8zM190.0 527.0h1.8v1.8h-1.8z" fill="#000"/>
<path d="M240.7 576.7h1.3v1.3h-1.3zM243.4 574.8h1.3v1.3h-1.3zM241.2 595.3h1.3v1.3h-1.3zM241.4 571.9h1.3v1.3h-1.3zM238.6 588.9h1.3v1.3h-1.3zM245.9 605.5h1.3v1.3h-1.3zM238.8 587.1h1.3v1.3h-1.3zM241.9 573.5h1.3v1.3h-1.3zM243.4 586.8h1.3v1.3h-1.3zM244.5 577.8h1.3v1.3h-1.3zM245.5 600.8h1.3v1.3h-1.3zM241.8 571.2h1.3v1.3h-1.3zM241.9 570.6h1.3v1.3h-1.3zM243.5 595.7h1.3v1.3h-1.3zM242.6 608.0h1.3v1.3h-1.3zM238.4 596.5h1.3v1.3h-1.3zM244.4 570.0h1.3v1.3h-1.3zM240.6 567.4h1.3v1.3h-1.3zM242.7 596.8h1.3v1.3h-1.3zM240.8 595.6h1.3v1.3h-1.3zM240.9 596.3h1.3v1.3h-1.3zM240.2 608.0h1.3v1.3h-1.3zM241.5 565.2h1.3v1.3h-1.3zM238.7 596.9h1.3v1.3h-1.3zM244.9 593.0h1.3v1.3h-1.3zM239.2 603.4h1.3v1.3h-1.3zM243.7 570.1h1.3v1.3h-1.3zM241.0 594.5h1.3v1.3h-1.3zM238.0 566.9h1.3v1.3h-1.3zM240.8 603.5h1.3v1.3h-1.3z" fill="#fff"/>
<rect x="95.8" y="471.5" width="53.5" height="49" fill="none" stroke="#000" stroke-width="4"/>
<text x="86" y="608" font-size="18" transform="rotate(-90 86 608)" class="t">10<tspan dy="-7.6" font-size="10.5">0</tspan></text>
<text x="86" y="574" font-size="18" transform="rotate(-90 86 574)" class="t">10<tspan dy="-7.6" font-size="10.5">1</tspan></text>
<text x="86" y="539" font-size="18" transform="rotate(-90 86 539)" class="t">10<tspan dy="-7.6" font-size="10.5">2</tspan></text>
<text x="86" y="505" font-size="18" transform="rotate(-90 86 505)" class="t">10<tspan dy="-7.6" font-size="10.5">3</tspan></text>
<text x="86" y="468" font-size="18" transform="rotate(-90 86 468)" class="t">10<tspan dy="-7.6" font-size="10.5">4</tspan></text>
<text x="94.5" y="632" font-size="18" class="t">10<tspan dy="-7.6" font-size="10.5">0</tspan></text>
<text x="131" y="632" font-size="18" class="t">10<tspan dy="-7.6" font-size="10.5">1</tspan></text>
<text x="169" y="632" font-size="18" class="t">10<tspan dy="-7.6" font-size="10.5">2</tspan></text>
<text x="207" y="632" font-size="18" class="t">10<tspan dy="-7.6" font-size="10.5">3</tspan></text>
<text x="246.5" y="632" font-size="18" class="t">10<tspan dy="-7.6" font-size="10.5">4</tspan></text>
<line x1="110.5" y1="649.5" x2="138" y2="649.5" stroke="#000" stroke-width="3"/>
<text x="155.5" y="655.5" font-size="21" textLength="29" lengthAdjust="spacing">Lin</text>
<line x1="202" y1="649.5" x2="232.5" y2="649.5" stroke="#000" stroke-width="3"/>
<polygon points="245.5,649.5 230.5,643.0 232.0,649.5 230.5,656.0" fill="#000"/>
<line x1="284.7" y1="409" x2="284.7" y2="298.5" stroke="#000" stroke-width="3"/>
<polygon points="284.7,286 277.2,300.5 292.2,300.5" fill="#000"/>
<text x="296" y="481.5" font-size="20" textLength="51" lengthAdjust="spacing" transform="rotate(-90 296 481.5)">CD44</text>
<line x1="285" y1="502.5" x2="285" y2="607.5" stroke="#000" stroke-width="3"/>
<rect x="332.5" y="285" width="145.0" height="134.5" fill="none" stroke="#000" stroke-width="1.7"/>
<line x1="385" y1="285" x2="385" y2="419.5" stroke="#000" stroke-width="1.7"/>
<line x1="332.5" y1="392.5" x2="477.5" y2="392.5" stroke="#000" stroke-width="1.7"/>
<path d="M343.4 419.5v2.2M332.5 409.4h-2.2M349.8 419.5v2.2M332.5 403.5h-2.2M354.3 419.5v2.2M332.5 399.3h-2.2M357.8 419.5v2.2M332.5 396.0h-2.2M360.7 419.5v2.2M332.5 393.3h-2.2M363.1 419.5v2.2M332.5 391.1h-2.2M365.2 419.5v2.2M332.5 389.1h-2.2M367.1 419.5v2.2M332.5 387.4h-2.2M379.7 419.5v2.2M332.5 375.8h-2.2M386.0 419.5v2.2M332.5 369.8h-2.2M390.6 419.5v2.2M332.5 365.6h-2.2M394.1 419.5v2.2M332.5 362.4h-2.2M397.0 419.5v2.2M332.5 359.7h-2.2M399.4 419.5v2.2M332.5 357.5h-2.2M401.5 419.5v2.2M332.5 355.5h-2.2M403.3 419.5v2.2M332.5 353.8h-2.2M415.9 419.5v2.2M332.5 342.1h-2.2M422.3 419.5v2.2M332.5 336.2h-2.2M426.8 419.5v2.2M332.5 332.0h-2.2M430.3 419.5v2.2M332.5 328.7h-2.2M433.2 419.5v2.2M332.5 326.1h-2.2M435.6 419.5v2.2M332.5 323.8h-2.2M437.7 419.5v2.2M332.5 321.9h-2.2M439.6 419.5v2.2M332.5 320.2h-2.2M452.2 419.5v2.2M332.5 308.5h-2.2M458.5 419.5v2.2M332.5 302.6h-2.2M463.1 419.5v2.2M332.5 298.4h-2.2M466.6 419.5v2.2M332.5 295.1h-2.2M469.5 419.5v2.2M332.5 292.5h-2.2M471.9 419.5v2.2M332.5 290.2h-2.2M474.0 419.5v2.2M332.5 288.3h-2.2M475.8 419.5v2.2M332.5 286.5h-2.2" stroke="#000" stroke-width="1" fill="none"/>
<path d="M332.5 419.5v4M332.5 419.5h-4M368.8 419.5v4M332.5 385.9h-4M405.0 419.5v4M332.5 352.2h-4M441.2 419.5v4M332.5 318.6h-4M477.5 419.5v4M332.5 285.0h-4" stroke="#000" stroke-width="1.7" fill="none"/>
<text x="358" y="323.5" font-size="21" text-anchor="middle">6</text>
<text x="445" y="323.5" font-size="21" text-anchor="middle">15</text>
<path d="M417.3 411.9h1.8v1.8h-1.8zM397.6 377.6h1.8v1.8h-1.8zM423.1 417.0h1.8v1.8h-1.8zM402.4 394.7h1.8v1.8h-1.8zM394.7 379.0h1.8v1.8h-1.8zM414.4 402.4h1.8v1.8h-1.8zM408.6 386.4h1.8v1.8h-1.8zM404.2 390.9h1.8v1.8h-1.8zM395.0 385.5h1.8v1.8h-1.8zM416.5 389.3h1.8v1.8h-1.8zM404.0 398.1h1.8v1.8h-1.8zM391.8 380.3h1.8v1.8h-1.8zM409.4 401.5h1.8v1.8h-1.8zM402.0 382.2h1.8v1.8h-1.8zM422.5 406.2h1.8v1.8h-1.8zM416.2 391.9h1.8v1.8h-1.8zM406.9 392.6h1.8v1.8h-1.8zM413.9 394.9h1.8v1.8h-1.8zM396.0 387.9h1.8v1.8h-1.8zM405.0 394.8h1.8v1.8h-1.8zM406.3 400.6h1.8v1.8h-1.8zM390.2 393.8h1.8v1.8h-1.8zM403.4 382.5h1.8v1.8h-1.8zM411.0 411.5h1.8v1.8h-1.8zM409.8 406.8h1.8v1.8h-1.8zM403.5 403.6h1.8v1.8h-1.8zM420.9 413.5h1.8v1.8h-1.8zM395.8 391.3h1.8v1.8h-1.8zM407.2 396.0h1.8v1.8h-1.8zM396.3 376.2h1.8v1.8h-1.8zM420.9 407.4h1.8v1.8h-1.8zM426.2 408.6h1.8v1.8h-1.8zM401.8 396.9h1.8v1.8h-1.8zM412.2 395.8h1.8v1.8h-1.8zM396.7 387.2h1.8v1.8h-1.8zM403.2 381.3h1.8v1.8h-1.8zM399.0 387.8h1.8v1.8h-1.8zM405.3 382.3h1.8v1.8h-1.8zM416.4 395.7h1.8v1.8h-1.8zM422.4 410.9h1.8v1.8h-1.8zM405.0 399.3h1.8v1.8h-1.8zM415.2 416.5h1.8v1.8h-1.8zM419.5 406.0h1.8v1.8h-1.8zM425.5 401.2h1.8v1.8h-1.8zM392.4 383.4h1.8v1.8h-1.8zM399.7 397.0h1.8v1.8h-1.8zM413.9 401.5h1.8v1.8h-1.8zM411.8 394.7h1.8v1.8h-1.8zM412.4 403.2h1.8v1.8h-1.8zM396.2 392.7h1.8v1.8h-1.8zM399.9 392.8h1.8v1.8h-1.8zM394.6 380.1h1.8v1.8h-1.8zM389.6 382.0h1.8v1.8h-1.8zM415.5 397.6h1.8v1.8h-1.8zM424.6 402.8h1.8v1.8h-1.8zM399.6 400.4h1.8v1.8h-1.8zM402.8 392.0h1.8v1.8h-1.8zM400.5 392.7h1.8v1.8h-1.8zM390.3 379.9h1.8v1.8h-1.8zM411.3 406.8h1.8v1.8h-1.8zM424.1 408.4h1.8v1.8h-1.8zM423.4 409.0h1.8v1.8h-1.8zM389.4 382.0h1.8v1.8h-1.8zM420.4 400.7h1.8v1.8h-1.8zM395.1 383.2h1.8v1.8h-1.8zM398.2 384.1h1.8v1.8h-1.8zM403.0 392.5h1.8v1.8h-1.8zM388.7 380.3h1.8v1.8h-1.8zM411.9 396.1h1.8v1.8h-1.8zM394.1 393.6h1.8v1.8h-1.8zM424.9 402.1h1.8v1.8h-1.8zM400.7 389.7h1.8v1.8h-1.8zM414.8 386.6h1.8v1.8h-1.8zM401.1 394.5h1.8v1.8h-1.8zM401.9 382.5h1.8v1.8h-1.8zM434.1 410.3h1.8v1.8h-1.8zM412.9 396.6h1.8v1.8h-1.8zM409.4 402.9h1.8v1.8h-1.8zM403.0 388.2h1.8v1.8h-1.8zM411.3 396.4h1.8v1.8h-1.8zM403.4 393.2h1.8v1.8h-1.8zM410.7 397.5h1.8v1.8h-1.8zM396.1 380.1h1.8v1.8h-1.8zM405.5 404.9h1.8v1.8h-1.8zM395.1 380.7h1.8v1.8h-1.8zM436.4 410.4h1.8v1.8h-1.8zM401.9 386.6h1.8v1.8h-1.8zM396.7 391.0h1.8v1.8h-1.8zM395.7 392.9h1.8v1.8h-1.8zM409.1 392.0h1.8v1.8h-1.8zM395.9 381.4h1.8v1.8h-1.8zM410.6 400.0h1.8v1.8h-1.8zM397.2 390.4h1.8v1.8h-1.8zM428.7 413.5h1.8v1.8h-1.8zM399.9 380.0h1.8v1.8h-1.8zM392.3 383.3h1.8v1.8h-1.8zM416.3 397.0h1.8v1.8h-1.8zM407.3 400.7h1.8v1.8h-1.8zM335.0 366.0h1.8v1.8h-1.8zM371.0 353.0h1.8v1.8h-1.8zM357.0 378.0h1.8v1.8h-1.8zM359.0 381.0h1.8v1.8h-1.8zM362.0 383.0h1.8v1.8h-1.8zM364.0 385.0h1.8v1.8h-1.8zM350.0 383.0h1.8v1.8h-1.8zM352.0 392.0h1.8v1.8h-1.8zM352.0 399.0h1.8v1.8h-1.8zM374.0 384.0h1.8v1.8h-1.8zM375.0 397.0h1.8v1.8h-1.8zM365.0 388.0h1.8v1.8h-1.8zM423.0 350.0h1.8v1.8h-1.8zM428.0 392.0h1.8v1.8h-1.8zM397.0 368.0h1.8v1.8h-1.8zM390.0 372.0h1.8v1.8h-1.8z" fill="#000"/>
<text x="324" y="418" font-size="18" transform="rotate(-90 324 418)" class="t">10<tspan dy="-7.6" font-size="10.5">0</tspan></text>
<text x="324" y="385" font-size="18" transform="rotate(-90 324 385)" class="t">10<tspan dy="-7.6" font-size="10.5">1</tspan></text>
<text x="324" y="351" font-size="18" transform="rotate(-90 324 351)" class="t">10<tspan dy="-7.6" font-size="10.5">2</tspan></text>
<text x="324" y="316" font-size="18" transform="rotate(-90 324 316)" class="t">10<tspan dy="-7.6" font-size="10.5">3</tspan></text>
<text x="324" y="281" font-size="17" transform="rotate(-90 324 281)">10</text>
<text x="331" y="437.5" font-size="18" class="t">10<tspan dy="-7.6" font-size="10.5">0</tspan></text>
<text x="370" y="437.5" font-size="18" class="t">10<tspan dy="-7.6" font-size="10.5">1</tspan></text>
<text x="406.5" y="437.5" font-size="18" class="t">10<tspan dy="-7.6" font-size="10.5">2</tspan></text>
<text x="442.5" y="437.5" font-size="18" class="t">10<tspan dy="-7.6" font-size="10.5">3</tspan></text>
<text x="477.5" y="437.5" font-size="18" class="t">10<tspan dy="-7.6" font-size="10.5">4</tspan></text>
<rect x="332.5" y="471" width="151.0" height="137" fill="none" stroke="#000" stroke-width="1.7"/>
<line x1="385.5" y1="471" x2="385.5" y2="608" stroke="#000" stroke-width="1.7"/>
<line x1="332.5" y1="580" x2="483.5" y2="580" stroke="#000" stroke-width="1.7"/>
<path d="M343.9 608v2.2M332.5 597.7h-2.2M350.5 608v2.2M332.5 591.7h-2.2M355.2 608v2.2M332.5 587.4h-2.2M358.9 608v2.2M332.5 584.1h-2.2M361.9 608v2.2M332.5 581.3h-2.2M364.4 608v2.2M332.5 579.1h-2.2M366.6 608v2.2M332.5 577.1h-2.2M368.5 608v2.2M332.5 575.3h-2.2M381.6 608v2.2M332.5 563.4h-2.2M388.3 608v2.2M332.5 557.4h-2.2M393.0 608v2.2M332.5 553.1h-2.2M396.6 608v2.2M332.5 549.8h-2.2M399.6 608v2.2M332.5 547.1h-2.2M402.2 608v2.2M332.5 544.8h-2.2M404.3 608v2.2M332.5 542.8h-2.2M406.3 608v2.2M332.5 541.1h-2.2M419.4 608v2.2M332.5 529.2h-2.2M426.0 608v2.2M332.5 523.2h-2.2M430.7 608v2.2M332.5 518.9h-2.2M434.4 608v2.2M332.5 515.6h-2.2M437.4 608v2.2M332.5 512.8h-2.2M439.9 608v2.2M332.5 510.6h-2.2M442.1 608v2.2M332.5 508.6h-2.2M444.0 608v2.2M332.5 506.8h-2.2M457.1 608v2.2M332.5 494.9h-2.2M463.8 608v2.2M332.5 488.9h-2.2M468.5 608v2.2M332.5 484.6h-2.2M472.1 608v2.2M332.5 481.3h-2.2M475.1 608v2.2M332.5 478.6h-2.2M477.7 608v2.2M332.5 476.3h-2.2M479.8 608v2.2M332.5 474.3h-2.2M481.8 608v2.2M332.5 472.6h-2.2" stroke="#000" stroke-width="1" fill="none"/>
<path d="M332.5 608v4M332.5 608.0h-4M370.2 608v4M332.5 573.8h-4M408.0 608v4M332.5 539.5h-4M445.8 608v4M332.5 505.2h-4M483.5 608v4M332.5 471.0h-4" stroke="#000" stroke-width="1.7" fill="none"/>
<text x="359" y="508" font-size="21" text-anchor="middle">38</text>
<text x="445" y="507" font-size="21" text-anchor="middle">12</text>
<path d="M342.0 554.0h1.8v1.8h-1.8zM353.0 554.0h1.8v1.8h-1.8zM356.0 558.0h1.8v1.8h-1.8zM344.0 566.0h1.8v1.8h-1.8zM352.0 565.0h1.8v1.8h-1.8zM358.0 567.0h1.8v1.8h-1.8zM361.0 564.0h1.8v1.8h-1.8zM364.0 568.0h1.8v1.8h-1.8zM368.0 573.0h1.8v1.8h-1.8zM351.0 577.0h1.8v1.8h-1.8zM333.0 560.0h1.8v1.8h-1.8zM398.0 571.0h1.8v1.8h-1.8zM410.0 573.0h1.8v1.8h-1.8zM423.5 543.5h1.8v1.8h-1.8zM413.0 584.0h1.8v1.8h-1.8zM415.0 597.0h1.8v1.8h-1.8zM429.0 601.5h1.8v1.8h-1.8zM426.0 606.0h1.8v1.8h-1.8zM430.0 606.0h1.8v1.8h-1.8zM428.0 604.0h1.8v1.8h-1.8z" fill="#000"/>
<text x="324" y="607" font-size="18" transform="rotate(-90 324 607)" class="t">10<tspan dy="-7.6" font-size="10.5">0</tspan></text>
<text x="324" y="573" font-size="18" transform="rotate(-90 324 573)" class="t">10<tspan dy="-7.6" font-size="10.5">1</tspan></text>
<text x="324" y="539" font-size="18" transform="rotate(-90 324 539)" class="t">10<tspan dy="-7.6" font-size="10.5">2</tspan></text>
<text x="324" y="505" font-size="18" transform="rotate(-90 324 505)" class="t">10<tspan dy="-7.6" font-size="10.5">3</tspan></text>
<text x="324" y="468" font-size="18" transform="rotate(-90 324 468)" class="t">10<tspan dy="-7.6" font-size="10.5">4</tspan></text>
<text x="331.5" y="627.5" font-size="18" class="t">10<tspan dy="-7.6" font-size="10.5">0</tspan></text>
<text x="368.5" y="627.5" font-size="18" class="t">10<tspan dy="-7.6" font-size="10.5">1</tspan></text>
<text x="405.5" y="627.5" font-size="18" class="t">10<tspan dy="-7.6" font-size="10.5">2</tspan></text>
<text x="443.5" y="627.5" font-size="18" class="t">10<tspan dy="-7.6" font-size="10.5">3</tspan></text>
<text x="482.5" y="627.5" font-size="18" class="t">10<tspan dy="-7.6" font-size="10.5">4</tspan></text>
<line x1="323" y1="646.5" x2="355" y2="646.5" stroke="#000" stroke-width="3"/>
<text x="374" y="654.5" font-size="20" textLength="54" lengthAdjust="spacing">CD25</text>
<line x1="448" y1="646.5" x2="474" y2="646.5" stroke="#000" stroke-width="3"/>
<polygon points="487,646.5 472,640.0 473.5,646.5 472,653.0" fill="#000"/>
<text x="0.5" y="700" font-size="23" font-weight="bold">C</text>
<text x="83" y="697.5" font-size="20" textLength="103" lengthAdjust="spacing">Number of</text>
<text x="83" y="722" font-size="20" textLength="116" lengthAdjust="spacing">CFSE<tspan dy="-5" font-size="13" font-weight="bold">+</tspan><tspan dy="5"> cells</tspan></text>
<text x="16" y="743.5" font-size="18">SP</text>
<rect x="22" y="751.8" width="12.3" height="25.7" fill="#fff" stroke="#000" stroke-width="3.7"/>
<text x="19.5" y="818" font-size="18">LN</text>
<rect x="20.5" y="828" width="15.5" height="27" fill="#000" stroke="none" stroke-width="1"/>
<line x1="92" y1="752" x2="200" y2="752" stroke="#000" stroke-width="2"/>
<line x1="92" y1="772" x2="200" y2="772" stroke="#000" stroke-width="2"/>
<line x1="92" y1="792.5" x2="200" y2="792.5" stroke="#000" stroke-width="2"/>
<line x1="92" y1="812.5" x2="200" y2="812.5" stroke="#000" stroke-width="2"/>
<line x1="92" y1="832" x2="200" y2="832" stroke="#000" stroke-width="2"/>
<line x1="92" y1="853" x2="200" y2="853" stroke="#000" stroke-width="2"/>
<rect x="92.2" y="733.2" width="107" height="139" fill="none" stroke="#000" stroke-width="4.2"/>
<rect x="108" y="759.7" width="22.2" height="112" fill="#fff" stroke="#000" stroke-width="3.8"/>
<line x1="120" y1="751" x2="120" y2="759" stroke="#000" stroke-width="3"/>
<line x1="116" y1="751.5" x2="124" y2="751.5" stroke="#000" stroke-width="3"/>
<rect x="161" y="866" width="24.5" height="6" fill="#000" stroke="none" stroke-width="1"/>
<text x="83" y="756.5" font-size="12.5" text-anchor="end" font-weight="bold" textLength="35" lengthAdjust="spacing" style="stroke-width:.55px">30000</text>
<text x="83" y="796" font-size="12.5" text-anchor="end" font-weight="bold" textLength="35" lengthAdjust="spacing" style="stroke-width:.55px">20000</text>
<text x="83" y="836.5" font-size="12.5" text-anchor="end" font-weight="bold" textLength="35" lengthAdjust="spacing" style="stroke-width:.55px">10000</text>
<text x="83" y="876.5" font-size="12.5" text-anchor="end" font-weight="bold" style="stroke-width:.55px">0</text>
<text x="261" y="697.5" font-size="17" textLength="93" lengthAdjust="spacing">Number of</text>
<text x="261" y="720" font-size="17" textLength="84" lengthAdjust="spacing">DN1 cells</text>
<line x1="247" y1="760.5" x2="360" y2="760.5" stroke="#000" stroke-width="2"/>
<line x1="247" y1="789.5" x2="360" y2="789.5" stroke="#000" stroke-width="2"/>
<line x1="247" y1="817.5" x2="360" y2="817.5" stroke="#000" stroke-width="2"/>
<line x1="247" y1="845.5" x2="360" y2="845.5" stroke="#000" stroke-width="3.2"/>
<rect x="247.3" y="732" width="111.8" height="141" fill="none" stroke="#000" stroke-width="3.6"/>
<rect x="264" y="768" width="20.3" height="105" fill="#fff" stroke="#000" stroke-width="3.8"/>
<line x1="274.5" y1="739.5" x2="274.5" y2="796" stroke="#000" stroke-width="2.6"/>
<line x1="271" y1="740" x2="278.5" y2="740" stroke="#000" stroke-width="2"/>
<line x1="271" y1="796" x2="278.5" y2="796" stroke="#000" stroke-width="2"/>
<rect x="317.5" y="855.5" width="25.5" height="16" fill="#000" stroke="none" stroke-width="1"/>
<text x="239" y="736" font-size="12.5" text-anchor="end" font-weight="bold" textLength="30" lengthAdjust="spacing" style="stroke-width:.55px">2500</text>
<text x="239" y="764.5" font-size="12.5" text-anchor="end" font-weight="bold" textLength="30" lengthAdjust="spacing" style="stroke-width:.55px">2000</text>
<text x="239" y="792" font-size="12.5" text-anchor="end" font-weight="bold" textLength="29" lengthAdjust="spacing" style="stroke-width:.55px">1500</text>
<text x="239" y="821" font-size="12.5" text-anchor="end" font-weight="bold" textLength="28.5" lengthAdjust="spacing" style="stroke-width:.55px">1000</text>
<text x="239" y="849" font-size="12.5" text-anchor="end" font-weight="bold" textLength="23" lengthAdjust="spacing" style="stroke-width:.55px">500</text>
<text x="239" y="876.5" font-size="12.5" text-anchor="end" font-weight="bold" style="stroke-width:.55px">0</text>
<text x="447" y="698.5" font-size="17" text-anchor="middle">%</text>
<text x="407" y="721" font-size="17" textLength="85.5" lengthAdjust="spacing">DN1 cells</text>
<line x1="394" y1="754" x2="504" y2="754" stroke="#000" stroke-width="2"/>
<line x1="394" y1="774" x2="504" y2="774" stroke="#000" stroke-width="2"/>
<line x1="394" y1="793.5" x2="504" y2="793.5" stroke="#000" stroke-width="2"/>
<line x1="394" y1="814" x2="504" y2="814" stroke="#000" stroke-width="2"/>
<line x1="394" y1="834" x2="504" y2="834" stroke="#000" stroke-width="2"/>
<line x1="394" y1="853.5" x2="504" y2="853.5" stroke="#000" stroke-width="2"/>
<rect x="394" y="734" width="109.5" height="138.3" fill="none" stroke="#000" stroke-width="3.6"/>
<rect x="411.5" y="860.7" width="20.5" height="11" fill="#fff" stroke="#000" stroke-width="3.6"/>
<rect x="418.5" y="856.5" width="8.5" height="7.5" fill="#000" stroke="none" stroke-width="1"/>
<rect x="463" y="788.3" width="25.6" height="84" fill="#000" stroke="none" stroke-width="1"/>
<line x1="476.5" y1="751" x2="476.5" y2="790" stroke="#000" stroke-width="3"/>
<line x1="471.5" y1="752" x2="481" y2="752" stroke="#000" stroke-width="3"/>
<text x="389.5" y="739" font-size="12.5" text-anchor="end" font-weight="bold" textLength="13.5" lengthAdjust="spacing" style="stroke-width:.55px">70</text>
<text x="389.5" y="759.5" font-size="12.5" text-anchor="end" font-weight="bold" textLength="13.5" lengthAdjust="spacing" style="stroke-width:.55px">60</text>
<text x="389.5" y="779" font-size="12.5" text-anchor="end" font-weight="bold" textLength="13.5" lengthAdjust="spacing" style="stroke-width:.55px">50</text>
<text x="389.5" y="799" font-size="12.5" text-anchor="end" font-weight="bold" textLength="13.5" lengthAdjust="spacing" style="stroke-width:.55px">40</text>
<text x="389.5" y="819" font-size="12.5" text-anchor="end" font-weight="bold" textLength="13.5" lengthAdjust="spacing" style="stroke-width:.55px">30</text>
<text x="389.5" y="839" font-size="12.5" text-anchor="end" font-weight="bold" textLength="13.5" lengthAdjust="spacing" style="stroke-width:.55px">20</text>
<text x="389.5" y="858" font-size="12.5" text-anchor="end" font-weight="bold" textLength="13.5" lengthAdjust="spacing" style="stroke-width:.55px">10</text>
<text x="389.5" y="878" font-size="12.5" text-anchor="end" font-weight="bold" style="stroke-width:.55px">0</text>
</g>
</svg>
</body></html>
